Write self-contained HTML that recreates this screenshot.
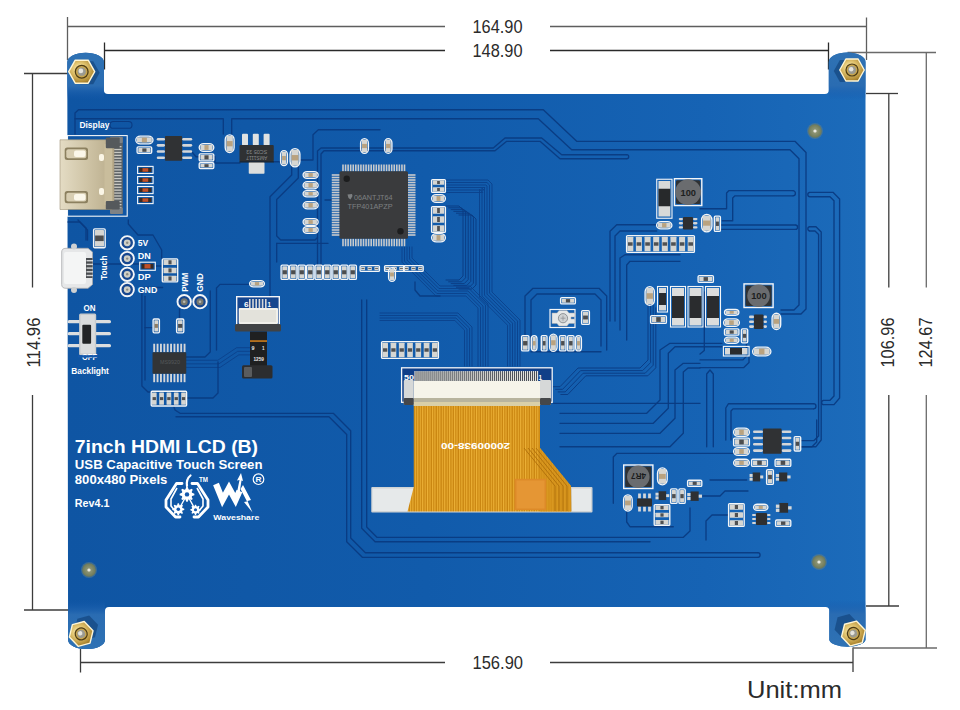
<!DOCTYPE html>
<html><head><meta charset="utf-8">
<style>
html,body{margin:0;padding:0;background:#fff;width:960px;height:710px;overflow:hidden}
svg{display:block}
text{font-family:"Liberation Sans",sans-serif}
</style></head><body>
<svg width="960" height="710" viewBox="0 0 960 710">
<defs>
 <radialGradient id="brass" cx="0.42" cy="0.38" r="0.75">
  <stop offset="0" stop-color="#fff3c0"/>
  <stop offset="0.35" stop-color="#e2c571"/>
  <stop offset="0.75" stop-color="#b18b34"/>
  <stop offset="1" stop-color="#7d5d1c"/>
 </radialGradient>
 <linearGradient id="hdmi" x1="0" y1="0" x2="1" y2="0">
  <stop offset="0" stop-color="#e4dcc4"/>
  <stop offset="0.5" stop-color="#cfc4a6"/>
  <stop offset="1" stop-color="#b8ab8a"/>
 </linearGradient>
 <linearGradient id="flex" x1="0" y1="0" x2="1" y2="0">
  <stop offset="0" stop-color="#d88f1c"/>
  <stop offset="0.5" stop-color="#e9a43a"/>
  <stop offset="1" stop-color="#d48a18"/>
 </linearGradient>
 <radialGradient id="fid" cx="0.5" cy="0.5" r="0.5">
  <stop offset="0" stop-color="#dcdcd0"/>
  <stop offset="0.25" stop-color="#8f9676"/>
  <stop offset="1" stop-color="#6c7858"/>
 </radialGradient>
</defs>
<g stroke="#5e5e5e" stroke-width="1.3" fill="none">
 <line x1="67.5" y1="17" x2="67.5" y2="60"/>
 <line x1="68" y1="26.5" x2="445" y2="26.5"/>
 <line x1="550" y1="26.5" x2="866" y2="26.5"/>
 <line x1="866.5" y1="17.5" x2="866.5" y2="60"/>
</g>
<g stroke="#2a2a2a" stroke-width="1.3" fill="none">
 <line x1="104.5" y1="42.5" x2="104.5" y2="69.5"/>
 <line x1="105" y1="50.5" x2="445" y2="50.5"/>
 <line x1="550" y1="50.5" x2="828" y2="50.5"/>
 <line x1="828.5" y1="42.5" x2="828.5" y2="69.5"/>
</g>
<g stroke="#3c3c3c" stroke-width="1.3" fill="none">
 <line x1="24" y1="73.5" x2="68" y2="73.5"/>
 <line x1="32.5" y1="74" x2="32.5" y2="287.5"/>
 <line x1="32.5" y1="395" x2="32.5" y2="610"/>
 <line x1="24" y1="610" x2="69" y2="610"/>
 <line x1="80.5" y1="649" x2="80.5" y2="672.5"/>
 <line x1="81" y1="662.5" x2="445" y2="662.5"/>
 <line x1="550" y1="662.5" x2="853" y2="662.5"/>
 <line x1="853" y1="647.5" x2="853" y2="672"/>
 <line x1="866" y1="93.5" x2="898" y2="93.5"/>
 <line x1="888.8" y1="93.5" x2="888.8" y2="287.5"/>
 <line x1="888.8" y1="395" x2="888.8" y2="606"/>
 <line x1="866" y1="606" x2="899" y2="606"/>
</g>
<g stroke="#6a6a6a" stroke-width="1.3" fill="none">
 <line x1="847.5" y1="52.5" x2="936" y2="52.5"/>
 <line x1="926.3" y1="52.5" x2="926.3" y2="287.5"/>
 <line x1="926.3" y1="395" x2="926.3" y2="648"/>
 <line x1="853" y1="648" x2="937" y2="648"/>
</g>
<g fill="#2b2b2b" font-size="18">
 <text x="472.5" y="33" textLength="50" lengthAdjust="spacingAndGlyphs">164.90</text>
 <text x="472.5" y="57" textLength="50" lengthAdjust="spacingAndGlyphs">148.90</text>
 <text x="472.5" y="668.8" textLength="50.5" lengthAdjust="spacingAndGlyphs">156.90</text>
 <text transform="translate(39.5,367.5) rotate(-90)" textLength="50" lengthAdjust="spacingAndGlyphs">114.96</text>
 <text transform="translate(894,367.5) rotate(-90)" textLength="50" lengthAdjust="spacingAndGlyphs">106.96</text>
 <text transform="translate(932,367.5) rotate(-90)" textLength="50" lengthAdjust="spacingAndGlyphs">124.67</text>
 <text x="747" y="698" font-size="24" textLength="95" lengthAdjust="spacingAndGlyphs">Unit:mm</text>
</g>
<defs><linearGradient id="bg" x1="67" y1="0" x2="866" y2="0" gradientUnits="userSpaceOnUse"><stop offset="0" stop-color="#0f55a3"/><stop offset="0.45" stop-color="#115bab"/><stop offset="0.8" stop-color="#1663b4"/><stop offset="1" stop-color="#1c6bba"/></linearGradient></defs>
<path fill="url(#bg)" d="M67.3,62 A18.3,9.3 0 0 1 103.9,62 L103.9,90 Q103.9,94 108,94 L824.8,94 Q828.8,94 828.8,90 L828.8,62 A18.35,9.5 0 0 1 865.5,62 L865.5,640 A18.2,7.5 0 0 1 829.3,640 L829.3,611 Q829.3,607 825.3,607 L109,607 Q105,607 105,611 L105,640 A18.4,9 0 0 1 68.1,640 Z"/>
<defs><linearGradient id="tabT" x1="0" y1="0" x2="0" y2="1"><stop offset="0" stop-color="#2f72b4"/><stop offset="0.7" stop-color="#2a6cb2"/><stop offset="1" stop-color="#1458ac" stop-opacity="0"/></linearGradient><linearGradient id="tabB" x1="0" y1="1" x2="0" y2="0"><stop offset="0" stop-color="#2f72b4"/><stop offset="0.7" stop-color="#2a6cb2"/><stop offset="1" stop-color="#1458ac" stop-opacity="0"/></linearGradient></defs>
<path fill="url(#tabT)" d="M67.3,62 A18.3,9.3 0 0 1 103.9,62 L103.9,100 L67.3,100 Z"/>
<path fill="url(#tabT)" d="M828.8,62 A18.35,9.5 0 0 1 865.5,62 L865.5,100 L828.8,100 Z"/>
<path fill="url(#tabB)" d="M68.1,600 L105,600 L105,640 A18.4,9 0 0 1 68.1,640 Z"/>
<path fill="url(#tabB)" d="M829.3,600 L865.5,600 L865.5,640 A18.2,7.5 0 0 1 829.3,640 Z"/>
<g transform="translate(86.7,72.7)"><polygon transform="rotate(0)" points="-13,0 -6.5,-11.5 6.5,-11.5 13,0 6.5,11.5 -6.5,11.5" fill="#0d3a70" opacity="0.55"/></g>
<g transform="translate(81.7,71.7) rotate(0)"><polygon points="-13,0 -6.5,-11.5 6.5,-11.5 13,0 6.5,11.5 -6.5,11.5" fill="url(#brass)" stroke="#fff6d6" stroke-width="1.4" stroke-linejoin="round"/><circle r="7.02" fill="#4e3c14"/><circle r="5.72" fill="#c7a650"/><circle r="4.16" fill="#9a9a92"/><circle cx="-0.8" cy="-0.8" r="2.34" fill="#e6e4dc"/></g>
<g transform="translate(846,71)"><polygon transform="rotate(0)" points="-12.25,0 -6.12,-11 6.12,-11 12.25,0 6.12,11 -6.12,11" fill="#0d3a70" opacity="0.55"/></g>
<g transform="translate(852,70) rotate(0)"><polygon points="-12.25,0 -6.12,-11 6.12,-11 12.25,0 6.12,11 -6.12,11" fill="url(#brass)" stroke="#fff6d6" stroke-width="1.4" stroke-linejoin="round"/><circle r="6.62" fill="#4e3c14"/><circle r="5.39" fill="#c7a650"/><circle r="3.92" fill="#9a9a92"/><circle cx="-0.8" cy="-0.8" r="2.21" fill="#e6e4dc"/></g>
<g transform="translate(86.2,627.9)"><polygon transform="rotate(-15)" points="-12.25,0 -6.12,-11.2 6.12,-11.2 12.25,0 6.12,11.2 -6.12,11.2" fill="#0d3a70" opacity="0.55"/></g>
<g transform="translate(81.2,633.9) rotate(-15)"><polygon points="-12.25,0 -6.12,-11.2 6.12,-11.2 12.25,0 6.12,11.2 -6.12,11.2" fill="url(#brass)" stroke="#fff6d6" stroke-width="1.4" stroke-linejoin="round"/><circle r="6.62" fill="#4e3c14"/><circle r="5.39" fill="#c7a650"/><circle r="3.92" fill="#9a9a92"/><circle cx="-0.8" cy="-0.8" r="2.21" fill="#e6e4dc"/></g>
<g transform="translate(846.4,626.5)"><polygon transform="rotate(-15)" points="-12.25,0 -6.12,-11.2 6.12,-11.2 12.25,0 6.12,11.2 -6.12,11.2" fill="#0d3a70" opacity="0.55"/></g>
<g transform="translate(853.4,633.5) rotate(-15)"><polygon points="-12.25,0 -6.12,-11.2 6.12,-11.2 12.25,0 6.12,11.2 -6.12,11.2" fill="url(#brass)" stroke="#fff6d6" stroke-width="1.4" stroke-linejoin="round"/><circle r="6.62" fill="#4e3c14"/><circle r="5.39" fill="#c7a650"/><circle r="3.92" fill="#9a9a92"/><circle cx="-0.8" cy="-0.8" r="2.21" fill="#e6e4dc"/></g>
<circle cx="89" cy="570" r="8" fill="#5f7d8a" opacity="0.55"/><circle cx="89" cy="570" r="6.8" fill="url(#fid)"/><circle cx="89" cy="570" r="1.6" fill="#e8e8e0"/>
<circle cx="815" cy="131" r="8" fill="#5f7d8a" opacity="0.55"/><circle cx="815" cy="131" r="6.8" fill="url(#fid)"/><circle cx="815" cy="131" r="1.6" fill="#e8e8e0"/>
<circle cx="819" cy="562" r="8" fill="#5f7d8a" opacity="0.55"/><circle cx="819" cy="562" r="6.8" fill="url(#fid)"/><circle cx="819" cy="562" r="1.6" fill="#e8e8e0"/>
<path d="M75,134 L75,113 L78.5,109.7 L543.3,109.7 L576.7,141.3 L795,141.3 L806,152.5 L806,309 L801,314 L781,314" fill="none" stroke="#0a3b82" stroke-width="1.35" stroke-linejoin="round" stroke-linecap="round" opacity="0.95"/>
<path d="M75,118.7 L223.3,118.7 L223.3,134" fill="none" stroke="#0a3b82" stroke-width="1.35" stroke-linejoin="round" stroke-linecap="round" opacity="0.95"/>
<path d="M231.7,134 L231.7,118.7 L538.3,118.7 L571.7,149.7 L790,149.7 L799,158.7 L799,305 L794,310 L781,310" fill="none" stroke="#0a3b82" stroke-width="1.35" stroke-linejoin="round" stroke-linecap="round" opacity="0.95"/>
<path d="M317.5,265 L317.5,151 L321,148 L493.3,148 L505,138 L541.7,138 L561.7,154.7 L626.7,154.7" fill="none" stroke="#0a3b82" stroke-width="1.35" stroke-linejoin="round" stroke-linecap="round" opacity="0.95"/>
<path d="M321,265 L321,154 L324,150.7 L495,150.7 L506.7,141.3 L540,141.3 L560,158.7 L626.7,158.7" fill="none" stroke="#0a3b82" stroke-width="1.35" stroke-linejoin="round" stroke-linecap="round" opacity="0.95"/>
<path d="M626.7,154.7 A2,2 0 0 1 626.7,158.7" fill="none" stroke="#0a3b82" stroke-width="1.3"/>
<rect x="110" y="121.5" width="22" height="6.8" fill="none" rx="3.4" stroke="#0a3b82" stroke-width="1.1"/>
<path d="M192,152 L196,156.7 L215,156.7 L215,163 L240,163" fill="none" stroke="#0a3b82" stroke-width="1.35" stroke-linejoin="round" stroke-linecap="round" opacity="0.95"/>
<path d="M273.75,161.75 L281,161.75" fill="none" stroke="#0a3b82" stroke-width="1.35" stroke-linejoin="round" stroke-linecap="round" opacity="0.95"/>
<path d="M291.7,166 L291.7,175 L270,196.7 L270,300" fill="none" stroke="#0a3b82" stroke-width="1.35" stroke-linejoin="round" stroke-linecap="round" opacity="0.95"/>
<path d="M298.3,166 L298.3,178 L276.7,199.6 L276.7,236 L280.7,240 L315,240 L317.5,237.5" fill="none" stroke="#0a3b82" stroke-width="1.35" stroke-linejoin="round" stroke-linecap="round" opacity="0.95"/>
<path d="M276.7,243.3 L328,243.3" fill="none" stroke="#0a3b82" stroke-width="1.35" stroke-linejoin="round" stroke-linecap="round" opacity="0.95"/>
<path d="M276.7,243.3 L276.7,262" fill="none" stroke="#0a3b82" stroke-width="1.35" stroke-linejoin="round" stroke-linecap="round" opacity="0.95"/>
<path d="M300.5,160 L313,160 L313,134.7 L318.3,129.7 L380,129.7" fill="none" stroke="#0a3b82" stroke-width="1.35" stroke-linejoin="round" stroke-linecap="round" opacity="0.95"/>
<path d="M336,200 L325,200" fill="none" stroke="#0a3b82" stroke-width="1.35" stroke-linejoin="round" stroke-linecap="round" opacity="0.95"/>
<path d="M68,222 L80,222 L86,228 L86,240" fill="none" stroke="#0a3b82" stroke-width="1.35" stroke-linejoin="round" stroke-linecap="round" opacity="0.95"/>
<path d="M92.5,264 L139,264" fill="none" stroke="#0a3b82" stroke-width="1.35" stroke-linejoin="round" stroke-linecap="round" opacity="0.95"/>
<path d="M155.8,266 L161.7,266" fill="none" stroke="#0a3b82" stroke-width="1.35" stroke-linejoin="round" stroke-linecap="round" opacity="0.95"/>
<path d="M128.3,220 L128.3,224 L138,235 L153,235 L161.7,250 L161.7,258" fill="none" stroke="#0a3b82" stroke-width="1.35" stroke-linejoin="round" stroke-linecap="round" opacity="0.95"/>
<path d="M78,220 L87.5,230 L87.5,240" fill="none" stroke="#0a3b82" stroke-width="1.35" stroke-linejoin="round" stroke-linecap="round" opacity="0.95"/>
<path d="M162.6,287.5 L145,287.5 L141.9,291 L141.9,386 L148,392 L150.6,392" fill="none" stroke="#0a3b82" stroke-width="1.35" stroke-linejoin="round" stroke-linecap="round" opacity="0.95"/>
<path d="M145,296.3 L145,380" fill="none" stroke="#0a3b82" stroke-width="1.35" stroke-linejoin="round" stroke-linecap="round" opacity="0.95"/>
<path d="M145,327.6 L152.5,327.6" fill="none" stroke="#0a3b82" stroke-width="1.35" stroke-linejoin="round" stroke-linecap="round" opacity="0.95"/>
<path d="M186.25,357 L205,357 L210.25,352 L210.25,291" fill="none" stroke="#0a3b82" stroke-width="1.35" stroke-linejoin="round" stroke-linecap="round" opacity="0.95"/>
<path d="M216.5,350 L216.5,288 L220,284.4 L250,284.4" fill="none" stroke="#0a3b82" stroke-width="1.35" stroke-linejoin="round" stroke-linecap="round" opacity="0.95"/>
<path d="M186.25,360.25 L217.8,360.25 L236.6,347.7 L250,347.7" fill="none" stroke="#0b418c" stroke-width="1" stroke-linejoin="round" stroke-linecap="round" opacity="0.9"/>
<path d="M186.25,363.85 L218.89,363.85 L237.69,351.3 L250,351.3" fill="none" stroke="#0b418c" stroke-width="1" stroke-linejoin="round" stroke-linecap="round" opacity="0.9"/>
<path d="M186.25,367.45 L219.98,367.45 L238.78,354.9 L250,354.9" fill="none" stroke="#0b418c" stroke-width="1" stroke-linejoin="round" stroke-linecap="round" opacity="0.9"/>
<path d="M179.5,309 L179.5,318.4" fill="none" stroke="#0a3b82" stroke-width="1.35" stroke-linejoin="round" stroke-linecap="round" opacity="0.95"/>
<path d="M187.2,398 L213,398 L218,393 L218,362" fill="none" stroke="#0a3b82" stroke-width="1.35" stroke-linejoin="round" stroke-linecap="round" opacity="0.95"/>
<path d="M173.3,405 L175,410 L180,413.3 L333.3,413.3 L350.7,430.7 L350.7,538 L365.4,552.7 L757.8,552.7" fill="none" stroke="#0a3b82" stroke-width="1.35" stroke-linejoin="round" stroke-linecap="round" opacity="0.95"/>
<path d="M176,416.7 L329,416.7 L346.7,434.4 L346.7,541.7 L362.3,557.3 L757.8,557.3" fill="none" stroke="#0a3b82" stroke-width="1.35" stroke-linejoin="round" stroke-linecap="round" opacity="0.95"/>
<path d="M757.8,552.7 A2.3,2.3 0 0 1 757.8,557.3" fill="none" stroke="#0a3b82" stroke-width="1.3"/>
<path d="M366.7,300 L366.7,527 L376.9,537.3 L683.4,537.3 L690,531 L690,508" fill="none" stroke="#0a3b82" stroke-width="1.35" stroke-linejoin="round" stroke-linecap="round" opacity="0.95"/>
<path d="M361.7,300 L361.7,528.3 L375.1,541.7 L650,541.7" fill="none" stroke="#0a3b82" stroke-width="1.35" stroke-linejoin="round" stroke-linecap="round" opacity="0.95"/>
<path d="M446,180 L488,180 L492,184 L492,292 L520,320 L520,366" fill="none" stroke="#0b418c" stroke-width="1" stroke-linejoin="round" stroke-linecap="round" opacity="0.9"/>
<path d="M446,182.5 L486.96,182.5 L489.5,185.04 L489.5,293.04 L517.5,321.04 L517.5,366" fill="none" stroke="#0b418c" stroke-width="1" stroke-linejoin="round" stroke-linecap="round" opacity="0.9"/>
<path d="M446,185 L485.93,185 L487,186.07 L487,294.07 L515,322.07 L515,366" fill="none" stroke="#0b418c" stroke-width="1" stroke-linejoin="round" stroke-linecap="round" opacity="0.9"/>
<path d="M446,187.5 L484.89,187.5 L484.5,187.11 L484.5,295.11 L512.5,323.11 L512.5,366" fill="none" stroke="#0b418c" stroke-width="1" stroke-linejoin="round" stroke-linecap="round" opacity="0.9"/>
<path d="M446,190 L483.86,190 L482,188.14 L482,296.14 L510,324.14 L510,366" fill="none" stroke="#0b418c" stroke-width="1" stroke-linejoin="round" stroke-linecap="round" opacity="0.9"/>
<path d="M446,192.5 L482.82,192.5 L479.5,189.18 L479.5,297.18 L507.5,325.18 L507.5,366" fill="none" stroke="#0b418c" stroke-width="1" stroke-linejoin="round" stroke-linecap="round" opacity="0.9"/>
<path d="M446,206 L459,206 L463,210 L463,276 L459,280 L446,280" fill="none" stroke="#0a3b82" stroke-width="1" stroke-linejoin="round" stroke-linecap="round" opacity="0.9"/>
<path d="M448.6,207.8 L461.6,207.8 L465.6,211.8 L465.6,277.8 L461.6,281.8 L448.6,281.8" fill="none" stroke="#0a3b82" stroke-width="1" stroke-linejoin="round" stroke-linecap="round" opacity="0.9"/>
<path d="M451.2,209.6 L464.2,209.6 L468.2,213.6 L468.2,279.6 L464.2,283.6 L451.2,283.6" fill="none" stroke="#0a3b82" stroke-width="1" stroke-linejoin="round" stroke-linecap="round" opacity="0.9"/>
<path d="M453.8,211.4 L466.8,211.4 L470.8,215.4 L470.8,281.4 L466.8,285.4 L453.8,285.4" fill="none" stroke="#0a3b82" stroke-width="1" stroke-linejoin="round" stroke-linecap="round" opacity="0.9"/>
<path d="M456.4,213.2 L469.4,213.2 L473.4,217.2 L473.4,283.2 L469.4,287.2 L456.4,287.2" fill="none" stroke="#0a3b82" stroke-width="1" stroke-linejoin="round" stroke-linecap="round" opacity="0.9"/>
<path d="M459,215 L472,215 L476,219 L476,285 L472,289 L459,289" fill="none" stroke="#0a3b82" stroke-width="1" stroke-linejoin="round" stroke-linecap="round" opacity="0.9"/>
<path d="M412,247 L412,258 L440,286 L470,286 L488,304 L488,366" fill="none" stroke="#0b418c" stroke-width="1" stroke-linejoin="round" stroke-linecap="round" opacity="0.9"/>
<path d="M409.5,247 L409.5,259.04 L438.96,288.5 L468.96,288.5 L485.5,305.04 L485.5,366" fill="none" stroke="#0b418c" stroke-width="1" stroke-linejoin="round" stroke-linecap="round" opacity="0.9"/>
<path d="M407,247 L407,260.07 L437.93,291 L467.93,291 L483,306.07 L483,366" fill="none" stroke="#0b418c" stroke-width="1" stroke-linejoin="round" stroke-linecap="round" opacity="0.9"/>
<path d="M404.5,247 L404.5,261.11 L436.89,293.5 L466.89,293.5 L480.5,307.11 L480.5,366" fill="none" stroke="#0b418c" stroke-width="1" stroke-linejoin="round" stroke-linecap="round" opacity="0.9"/>
<path d="M402,247 L402,262.14 L435.86,296 L465.86,296 L478,308.14 L478,366" fill="none" stroke="#0b418c" stroke-width="1" stroke-linejoin="round" stroke-linecap="round" opacity="0.9"/>
<path d="M380,313 L458,313 L472,327 L472,366" fill="none" stroke="#0b418c" stroke-width="1" stroke-linejoin="round" stroke-linecap="round" opacity="0.9"/>
<path d="M380,315.5 L456.96,315.5 L469.5,328.04 L469.5,366" fill="none" stroke="#0b418c" stroke-width="1" stroke-linejoin="round" stroke-linecap="round" opacity="0.9"/>
<path d="M380,318 L455.93,318 L467,329.07 L467,366" fill="none" stroke="#0b418c" stroke-width="1" stroke-linejoin="round" stroke-linecap="round" opacity="0.9"/>
<path d="M380,320.5 L454.89,320.5 L464.5,330.11 L464.5,366" fill="none" stroke="#0b418c" stroke-width="1" stroke-linejoin="round" stroke-linecap="round" opacity="0.9"/>
<path d="M415,282 L415,290 L420,296 L440,296" fill="none" stroke="#0a3b82" stroke-width="1.35" stroke-linejoin="round" stroke-linecap="round" opacity="0.95"/>
<path d="M610,321 L610,231.3 L616.7,224.7 L656.7,224.7" fill="none" stroke="#0a3b82" stroke-width="1.35" stroke-linejoin="round" stroke-linecap="round" opacity="0.95"/>
<path d="M615,321 L615,236 L620,231 L656.7,231" fill="none" stroke="#0a3b82" stroke-width="1.35" stroke-linejoin="round" stroke-linecap="round" opacity="0.95"/>
<path d="M620,330 L620,258 L625,254.7 L680,254.7" fill="none" stroke="#0a3b82" stroke-width="1.35" stroke-linejoin="round" stroke-linecap="round" opacity="0.95"/>
<path d="M626.7,340 L626.7,265 L630,261.3 L680,261.3" fill="none" stroke="#0a3b82" stroke-width="1.35" stroke-linejoin="round" stroke-linecap="round" opacity="0.95"/>
<path d="M700,208.7 L726.6,208.7 L726.6,193 L729,190.6 L792.8,190.6" fill="none" stroke="#0a3b82" stroke-width="1.35" stroke-linejoin="round" stroke-linecap="round" opacity="0.95"/>
<path d="M722.3,220.7 L732.7,220.7 L732.7,198 L735,195.8 L792.8,195.8" fill="none" stroke="#0a3b82" stroke-width="1.35" stroke-linejoin="round" stroke-linecap="round" opacity="0.95"/>
<path d="M792.8,190.6 A2.6,2.6 0 0 1 792.8,195.8" fill="none" stroke="#0a3b82" stroke-width="1.3"/>
<path d="M721,225 L795.4,225" fill="none" stroke="#0a3b82" stroke-width="1.35" stroke-linejoin="round" stroke-linecap="round" opacity="0.95"/>
<path d="M721,229.3 L795.4,229.3" fill="none" stroke="#0a3b82" stroke-width="1.35" stroke-linejoin="round" stroke-linecap="round" opacity="0.95"/>
<path d="M795.4,225 A2.15,2.15 0 0 1 795.4,229.3" fill="none" stroke="#0a3b82" stroke-width="1.3"/>
<path d="M810,192.3 L833,192.3 L839.6,198.9 L839.6,398 L834,404.6 L823.75,404.6" fill="none" stroke="#0a3b82" stroke-width="1.35" stroke-linejoin="round" stroke-linecap="round" opacity="0.95"/>
<path d="M810,196.7 L830,196.7 L834,200.7 L834,396 L830,400.3 L823.75,400.3" fill="none" stroke="#0a3b82" stroke-width="1.35" stroke-linejoin="round" stroke-linecap="round" opacity="0.95"/>
<path d="M810,192.3 A2.2,2.2 0 0 0 810,196.7" fill="none" stroke="#0a3b82" stroke-width="1.3"/>
<path d="M823.75,400.3 A2.15,2.15 0 0 0 823.75,404.6" fill="none" stroke="#0a3b82" stroke-width="1.3"/>
<path d="M810,226.7 L816,226.7 L821.2,231.9 L821.2,440 L816,446.7 L800,446.7" fill="none" stroke="#0a3b82" stroke-width="1.35" stroke-linejoin="round" stroke-linecap="round" opacity="0.95"/>
<path d="M810,231 L815,231 L818.6,234.6 L818.6,436 L814,440.6 L801.3,440.6" fill="none" stroke="#0a3b82" stroke-width="1.35" stroke-linejoin="round" stroke-linecap="round" opacity="0.95"/>
<path d="M810,226.7 A2.15,2.15 0 0 0 810,231" fill="none" stroke="#0a3b82" stroke-width="1.3"/>
<path d="M725.8,440 L725.8,408 L728.5,403.7 L813.4,403.7" fill="none" stroke="#0a3b82" stroke-width="1.35" stroke-linejoin="round" stroke-linecap="round" opacity="0.95"/>
<path d="M731,440 L731,411 L733,408.9 L813.4,408.9" fill="none" stroke="#0a3b82" stroke-width="1.35" stroke-linejoin="round" stroke-linecap="round" opacity="0.95"/>
<path d="M813.4,403.7 A2.6,2.6 0 0 1 813.4,408.9" fill="none" stroke="#0a3b82" stroke-width="1.3"/>
<path d="M700,359.9 L743,359.9 L746.4,356.4 L746.4,343.6" fill="none" stroke="#0a3b82" stroke-width="1.35" stroke-linejoin="round" stroke-linecap="round" opacity="0.95"/>
<path d="M700,367.6 L743.8,367.6 L749,362.5 L749,356.5" fill="none" stroke="#0a3b82" stroke-width="1.35" stroke-linejoin="round" stroke-linecap="round" opacity="0.95"/>
<path d="M704.3,292 L704.3,350.4 L700,354" fill="none" stroke="#0a3b82" stroke-width="1.35" stroke-linejoin="round" stroke-linecap="round" opacity="0.95"/>
<path d="M525,350 L525,296 L533,288.3 L599,288.3 L606.7,296 L606.7,350" fill="none" stroke="#0a3b82" stroke-width="1.35" stroke-linejoin="round" stroke-linecap="round" opacity="0.95"/>
<path d="M531,346 L531,300 L537,294 L595,294 L601,300 L601,346" fill="none" stroke="#0a3b82" stroke-width="1.35" stroke-linejoin="round" stroke-linecap="round" opacity="0.95"/>
<path d="M531,351.7 L601,351.7" fill="none" stroke="#0a3b82" stroke-width="1.35" stroke-linejoin="round" stroke-linecap="round" opacity="0.95"/>
<path d="M553,386.7 L560,386.7 L578,368 L640,368 L648,360 L648,300" fill="none" stroke="#0a3b82" stroke-width="1" stroke-linejoin="round" stroke-linecap="round" opacity="0.9"/>
<path d="M555.6,389.3 L562.6,389.3 L580.6,370.6 L642.6,370.6 L650.6,362.6 L650.6,302.6" fill="none" stroke="#0a3b82" stroke-width="1" stroke-linejoin="round" stroke-linecap="round" opacity="0.9"/>
<path d="M558.2,391.9 L565.2,391.9 L583.2,373.2 L645.2,373.2 L653.2,365.2 L653.2,305.2" fill="none" stroke="#0a3b82" stroke-width="1" stroke-linejoin="round" stroke-linecap="round" opacity="0.9"/>
<path d="M560.8,394.5 L567.8,394.5 L585.8,375.8 L647.8,375.8 L655.8,367.8 L655.8,307.8" fill="none" stroke="#0a3b82" stroke-width="1" stroke-linejoin="round" stroke-linecap="round" opacity="0.9"/>
<path d="M553,403.3 L700,403.3" fill="none" stroke="#0a3b82" stroke-width="1.35" stroke-linejoin="round" stroke-linecap="round" opacity="0.95"/>
<path d="M560,413.3 L646.7,413.3 L660,400 L660,350 L670,343.3 L722,343.3" fill="none" stroke="#0a3b82" stroke-width="1.35" stroke-linejoin="round" stroke-linecap="round" opacity="0.95"/>
<path d="M560,423.3 L653.3,423.3 L668.3,408.3 L668.3,353.3 L675,346.7 L722,346.7" fill="none" stroke="#0a3b82" stroke-width="1.35" stroke-linejoin="round" stroke-linecap="round" opacity="0.95"/>
<path d="M560,433.3 L660,433.3 L675,418.3 L675,370 L683.3,363.3 L700,363.3" fill="none" stroke="#0a3b82" stroke-width="1.35" stroke-linejoin="round" stroke-linecap="round" opacity="0.95"/>
<path d="M560,446.7 L670,446.7 L683.3,433.3 L683.3,372 L688,368 L700,368" fill="none" stroke="#0a3b82" stroke-width="1.35" stroke-linejoin="round" stroke-linecap="round" opacity="0.95"/>
<path d="M706.7,446.7 L706.7,374 L710,370 L713.3,374 L713.3,446.7" fill="none" stroke="#0a3b82" stroke-width="1.35" stroke-linejoin="round" stroke-linecap="round" opacity="0.95"/>
<path d="M800,446.7 L812,446.7 L816.7,442 L816.7,420" fill="none" stroke="#0a3b82" stroke-width="1.35" stroke-linejoin="round" stroke-linecap="round" opacity="0.95"/>
<path d="M613.3,503.3 L613.3,457 L617,453.3 L746.7,453.3" fill="none" stroke="#0a3b82" stroke-width="1.35" stroke-linejoin="round" stroke-linecap="round" opacity="0.95"/>
<path d="M626.7,512 L626.7,522 L630,526.7 L673.3,526.7" fill="none" stroke="#0a3b82" stroke-width="1.35" stroke-linejoin="round" stroke-linecap="round" opacity="0.95"/>
<path d="M710,480 L746.7,480" fill="none" stroke="#0a3b82" stroke-width="1.35" stroke-linejoin="round" stroke-linecap="round" opacity="0.95"/>
<path d="M702.8,496 L720,496 L725,491 L748,491" fill="none" stroke="#0a3b82" stroke-width="1.35" stroke-linejoin="round" stroke-linecap="round" opacity="0.95"/>
<path d="M728,515 L712,515 L706,521 L706,540" fill="none" stroke="#0a3b82" stroke-width="1.35" stroke-linejoin="round" stroke-linecap="round" opacity="0.95"/>
<rect x="67.5" y="135.6" width="59.7" height="80.6" fill="none" stroke="#f4f6f8" stroke-width="1.1"/>
<rect x="112" y="136.7" width="10.8" height="77.3" fill="#5d6265" rx="1"/>
<rect x="113.5" y="146" width="8" height="1.3" fill="#c9c9c4"/>
<rect x="113.5" y="148.9" width="8" height="1.3" fill="#c9c9c4"/>
<rect x="113.5" y="151.8" width="8" height="1.3" fill="#c9c9c4"/>
<rect x="113.5" y="154.7" width="8" height="1.3" fill="#c9c9c4"/>
<rect x="113.5" y="157.6" width="8" height="1.3" fill="#c9c9c4"/>
<rect x="113.5" y="160.5" width="8" height="1.3" fill="#c9c9c4"/>
<rect x="113.5" y="163.4" width="8" height="1.3" fill="#c9c9c4"/>
<rect x="113.5" y="166.3" width="8" height="1.3" fill="#c9c9c4"/>
<rect x="113.5" y="169.2" width="8" height="1.3" fill="#c9c9c4"/>
<rect x="113.5" y="172.1" width="8" height="1.3" fill="#c9c9c4"/>
<rect x="113.5" y="175" width="8" height="1.3" fill="#c9c9c4"/>
<rect x="113.5" y="177.9" width="8" height="1.3" fill="#c9c9c4"/>
<rect x="113.5" y="180.8" width="8" height="1.3" fill="#c9c9c4"/>
<rect x="113.5" y="183.7" width="8" height="1.3" fill="#c9c9c4"/>
<rect x="113.5" y="186.6" width="8" height="1.3" fill="#c9c9c4"/>
<rect x="113.5" y="189.5" width="8" height="1.3" fill="#c9c9c4"/>
<rect x="113.5" y="192.4" width="8" height="1.3" fill="#c9c9c4"/>
<rect x="113.5" y="195.3" width="8" height="1.3" fill="#c9c9c4"/>
<rect x="113.5" y="198.2" width="8" height="1.3" fill="#c9c9c4"/>
<rect x="113.5" y="201.1" width="8" height="1.3" fill="#c9c9c4"/>
<rect x="113.5" y="204" width="8" height="1.3" fill="#c9c9c4"/>
<rect x="113.5" y="206.9" width="8" height="1.3" fill="#c9c9c4"/>
<rect x="110" y="136.7" width="12.8" height="6.3" fill="#7e8285" rx="1"/>
<rect x="110" y="207.5" width="12.8" height="6.5" fill="#7e8285" rx="1"/>
<path d="M60,139.8 L112,139.8 L112,145 L114,145 L114,205 L112,205 L112,209.5 L60,209.5 Z" fill="url(#hdmi)" stroke="#9d9275" stroke-width="0.6"/>
<rect x="104.5" y="144" width="7.5" height="61" fill="#c9bd9c"/>
<rect x="105.8" y="137.5" width="13.9" height="10.8" fill="#55595c" rx="1"/>
<rect x="105.8" y="201" width="13.9" height="8.5" fill="#55595c" rx="1"/>
<rect x="64.7" y="147.5" width="23.3" height="12.5" fill="#8c805f" rx="2.5"/>
<rect x="66.3" y="149.3" width="20" height="8.9" fill="#d8ceb2" rx="2"/>
<rect x="74" y="150.5" width="11.5" height="6.5" fill="#fbf7ea" rx="2"/>
<rect x="64.7" y="190.9" width="23.3" height="12.4" fill="#8c805f" rx="2.5"/>
<rect x="66.3" y="192.7" width="20" height="8.8" fill="#d8ceb2" rx="2"/>
<rect x="74" y="193.9" width="11.5" height="6.5" fill="#fbf7ea" rx="2"/>
<rect x="99" y="154" width="5" height="7" fill="#fbf6e6" rx="2"/>
<rect x="99" y="188" width="5" height="7" fill="#fbf6e6" rx="2"/>
<text x="79.4" y="128.2" font-size="9.3" font-weight="bold" fill="#fff" textLength="30" lengthAdjust="spacingAndGlyphs">Display</text>
<rect x="156.75" y="137.89" width="8.25" height="2.6" fill="#d4d6d8" rx="1.3"/>
<rect x="182.1" y="137.89" width="10.1" height="2.6" fill="#d4d6d8" rx="1.3"/>
<rect x="156.75" y="144.06" width="8.25" height="2.6" fill="#d4d6d8" rx="1.3"/>
<rect x="182.1" y="144.06" width="10.1" height="2.6" fill="#d4d6d8" rx="1.3"/>
<rect x="156.75" y="150.24" width="8.25" height="2.6" fill="#d4d6d8" rx="1.3"/>
<rect x="182.1" y="150.24" width="10.1" height="2.6" fill="#d4d6d8" rx="1.3"/>
<rect x="156.75" y="156.41" width="8.25" height="2.6" fill="#d4d6d8" rx="1.3"/>
<rect x="182.1" y="156.41" width="10.1" height="2.6" fill="#d4d6d8" rx="1.3"/>
<rect x="165" y="136.1" width="17.1" height="24.7" fill="#303234" rx="0.8"/>
<rect x="135.8" y="136.1" width="17.2" height="7.7" fill="none" rx="4.45" stroke="#f4f6f8" stroke-width="1.35"/>
<rect x="137" y="137.3" width="14.8" height="5.3" fill="#d6d6d2" rx="0.6"/>
<rect x="141.88" y="137.6" width="5.03" height="4.7" fill="#b9a27f"/>
<rect x="137.1" y="146.9" width="14.6" height="6.4" fill="none" rx="1.2" stroke="#f4f6f8" stroke-width="1.35"/>
<rect x="138.3" y="148.1" width="12.2" height="4" fill="#d6d6d2" rx="0.6"/>
<rect x="142.33" y="148.4" width="4.15" height="3.4" fill="#4c4d4e"/>
<rect x="199.2" y="143.6" width="14.6" height="7.8" fill="none" rx="4.5" stroke="#f4f6f8" stroke-width="1.35"/>
<rect x="200.4" y="144.8" width="12.2" height="5.4" fill="#d6d6d2" rx="0.6"/>
<rect x="204.43" y="145.1" width="4.15" height="4.8" fill="#b9a27f"/>
<rect x="199.2" y="153.8" width="14.6" height="7.1" fill="none" rx="1.2" stroke="#f4f6f8" stroke-width="1.35"/>
<rect x="200.4" y="155" width="12.2" height="4.7" fill="#d6d6d2" rx="0.6"/>
<rect x="204.43" y="155.3" width="4.15" height="4.1" fill="#4c4d4e"/>
<rect x="199.2" y="162.7" width="14.6" height="5.8" fill="none" rx="1.2" stroke="#f4f6f8" stroke-width="1.35"/>
<rect x="200.4" y="163.9" width="12.2" height="3.4" fill="#d6d6d2" rx="0.6"/>
<rect x="204.43" y="164.2" width="4.15" height="2.8" fill="#4c4d4e"/>
<rect x="225.2" y="134.8" width="8.9" height="17.8" fill="none" rx="5.05" stroke="#f4f6f8" stroke-width="1.35"/>
<rect x="226.4" y="136" width="6.5" height="15.4" fill="#d6d6d2" rx="0.6"/>
<rect x="226.7" y="141.08" width="5.9" height="5.24" fill="#b9a27f"/>
<rect x="137.6" y="166.4" width="15.5" height="7.1" fill="none" stroke="#f4f6f8" stroke-width="1.1"/>
<rect x="139.3" y="167.9" width="12.1" height="4.1" fill="#3a2a22"/>
<rect x="142.5" y="168.2" width="5.7" height="3.5" fill="#c2502a"/>
<rect x="137.6" y="176.5" width="15.5" height="7.1" fill="none" stroke="#f4f6f8" stroke-width="1.1"/>
<rect x="139.3" y="178" width="12.1" height="4.1" fill="#3a2a22"/>
<rect x="142.5" y="178.3" width="5.7" height="3.5" fill="#c2502a"/>
<rect x="137.6" y="186.5" width="15.5" height="7.1" fill="none" stroke="#f4f6f8" stroke-width="1.1"/>
<rect x="139.3" y="188" width="12.1" height="4.1" fill="#3a2a22"/>
<rect x="142.5" y="188.3" width="5.7" height="3.5" fill="#c2502a"/>
<rect x="137.6" y="196.5" width="15.5" height="7.1" fill="none" stroke="#f4f6f8" stroke-width="1.1"/>
<rect x="139.3" y="198" width="12.1" height="4.1" fill="#3a2a22"/>
<rect x="142.5" y="198.3" width="5.7" height="3.5" fill="#c2502a"/>
<rect x="242" y="133.8" width="6" height="11.7" fill="#e0e2e2" rx="1"/>
<rect x="252.8" y="133.8" width="6" height="11.7" fill="#e0e2e2" rx="1"/>
<rect x="263.6" y="133.8" width="6" height="11.7" fill="#e0e2e2" rx="1"/>
<rect x="239.5" y="145" width="34.25" height="16.25" fill="#2f3133" rx="1"/>
<rect x="248.75" y="162" width="15.75" height="11.75" fill="#dcdedd" rx="0.8"/>
<rect x="239.5" y="161.2" width="34.25" height="1.3" fill="#1f2022"/>
<text x="246" y="152.5" font-size="5.2" font-weight="normal" fill="#8a8c8e" textLength="21" lengthAdjust="spacingAndGlyphs" transform="rotate(180 256.6 151)">SC05  33</text>
<text x="246" y="158.5" font-size="5.2" font-weight="normal" fill="#8a8c8e" textLength="21" lengthAdjust="spacingAndGlyphs" transform="rotate(180 256.6 157)">AMS1117</text>
<rect x="280.6" y="150.6" width="6.8" height="15.05" fill="none" rx="4" stroke="#f4f6f8" stroke-width="1.35"/>
<rect x="281.8" y="151.8" width="4.4" height="12.65" fill="#d6d6d2" rx="0.6"/>
<rect x="282.1" y="155.97" width="3.8" height="4.3" fill="#b9a27f"/>
<rect x="290.1" y="148.6" width="9.8" height="18.3" fill="none" rx="5.5" stroke="#f4f6f8" stroke-width="1.35"/>
<rect x="291.3" y="149.8" width="7.4" height="15.9" fill="#d6d6d2" rx="0.6"/>
<rect x="291.6" y="155.05" width="6.8" height="5.41" fill="#b9a27f"/>
<rect x="303.1" y="171.6" width="15.05" height="6.8" fill="none" rx="4" stroke="#f4f6f8" stroke-width="1.35"/>
<rect x="304.3" y="172.8" width="12.65" height="4.4" fill="#d6d6d2" rx="0.6"/>
<rect x="308.47" y="173.1" width="4.3" height="3.8" fill="#b9a27f"/>
<rect x="303.1" y="181.6" width="15.05" height="7.3" fill="none" rx="4.25" stroke="#f4f6f8" stroke-width="1.35"/>
<rect x="304.3" y="182.8" width="12.65" height="4.9" fill="#d6d6d2" rx="0.6"/>
<rect x="308.47" y="183.1" width="4.3" height="4.3" fill="#b9a27f"/>
<rect x="303.1" y="190.6" width="15.05" height="6.3" fill="none" rx="3.75" stroke="#f4f6f8" stroke-width="1.35"/>
<rect x="304.3" y="191.8" width="12.65" height="3.9" fill="#d6d6d2" rx="0.6"/>
<rect x="308.47" y="192.1" width="4.3" height="3.3" fill="#b9a27f"/>
<rect x="303.1" y="201.6" width="15.05" height="7.3" fill="none" rx="4.25" stroke="#f4f6f8" stroke-width="1.35"/>
<rect x="304.3" y="202.8" width="12.65" height="4.9" fill="#d6d6d2" rx="0.6"/>
<rect x="308.47" y="203.1" width="4.3" height="4.3" fill="#b9a27f"/>
<rect x="303.1" y="218.6" width="15.05" height="6.8" fill="none" rx="4" stroke="#f4f6f8" stroke-width="1.35"/>
<rect x="304.3" y="219.8" width="12.65" height="4.4" fill="#d6d6d2" rx="0.6"/>
<rect x="308.47" y="220.1" width="4.3" height="3.8" fill="#b9a27f"/>
<rect x="303.1" y="226.6" width="15.05" height="6.8" fill="none" rx="4" stroke="#f4f6f8" stroke-width="1.35"/>
<rect x="304.3" y="227.8" width="12.65" height="4.4" fill="#d6d6d2" rx="0.6"/>
<rect x="308.47" y="228.1" width="4.3" height="3.8" fill="#b9a27f"/>
<rect x="360.6" y="138.6" width="7.8" height="14.8" fill="none" rx="4.5" stroke="#f4f6f8" stroke-width="1.35"/>
<rect x="361.8" y="139.8" width="5.4" height="12.4" fill="#d6d6d2" rx="0.6"/>
<rect x="362.1" y="143.89" width="4.8" height="4.22" fill="#b9a27f"/>
<rect x="384.6" y="138.6" width="7.3" height="14.8" fill="none" rx="4.25" stroke="#f4f6f8" stroke-width="1.35"/>
<rect x="385.8" y="139.8" width="4.9" height="12.4" fill="#d6d6d2" rx="0.6"/>
<rect x="386.1" y="143.89" width="4.3" height="4.22" fill="#b9a27f"/>
<rect x="342.2" y="164.5" width="1.6" height="7" fill="#c8cacc"/>
<rect x="342.2" y="238.5" width="1.6" height="7.75" fill="#c8cacc"/>
<rect x="331.75" y="174.2" width="8.05" height="1.6" fill="#c8cacc"/>
<rect x="407.8" y="174.2" width="7.7" height="1.6" fill="#c8cacc"/>
<rect x="344.76" y="164.5" width="1.6" height="7" fill="#c8cacc"/>
<rect x="344.76" y="238.5" width="1.6" height="7.75" fill="#c8cacc"/>
<rect x="331.75" y="176.7" width="8.05" height="1.6" fill="#c8cacc"/>
<rect x="407.8" y="176.7" width="7.7" height="1.6" fill="#c8cacc"/>
<rect x="347.32" y="164.5" width="1.6" height="7" fill="#c8cacc"/>
<rect x="347.32" y="238.5" width="1.6" height="7.75" fill="#c8cacc"/>
<rect x="331.75" y="179.2" width="8.05" height="1.6" fill="#c8cacc"/>
<rect x="407.8" y="179.2" width="7.7" height="1.6" fill="#c8cacc"/>
<rect x="349.89" y="164.5" width="1.6" height="7" fill="#c8cacc"/>
<rect x="349.89" y="238.5" width="1.6" height="7.75" fill="#c8cacc"/>
<rect x="331.75" y="181.7" width="8.05" height="1.6" fill="#c8cacc"/>
<rect x="407.8" y="181.7" width="7.7" height="1.6" fill="#c8cacc"/>
<rect x="352.45" y="164.5" width="1.6" height="7" fill="#c8cacc"/>
<rect x="352.45" y="238.5" width="1.6" height="7.75" fill="#c8cacc"/>
<rect x="331.75" y="184.2" width="8.05" height="1.6" fill="#c8cacc"/>
<rect x="407.8" y="184.2" width="7.7" height="1.6" fill="#c8cacc"/>
<rect x="355.01" y="164.5" width="1.6" height="7" fill="#c8cacc"/>
<rect x="355.01" y="238.5" width="1.6" height="7.75" fill="#c8cacc"/>
<rect x="331.75" y="186.7" width="8.05" height="1.6" fill="#c8cacc"/>
<rect x="407.8" y="186.7" width="7.7" height="1.6" fill="#c8cacc"/>
<rect x="357.57" y="164.5" width="1.6" height="7" fill="#c8cacc"/>
<rect x="357.57" y="238.5" width="1.6" height="7.75" fill="#c8cacc"/>
<rect x="331.75" y="189.2" width="8.05" height="1.6" fill="#c8cacc"/>
<rect x="407.8" y="189.2" width="7.7" height="1.6" fill="#c8cacc"/>
<rect x="360.14" y="164.5" width="1.6" height="7" fill="#c8cacc"/>
<rect x="360.14" y="238.5" width="1.6" height="7.75" fill="#c8cacc"/>
<rect x="331.75" y="191.7" width="8.05" height="1.6" fill="#c8cacc"/>
<rect x="407.8" y="191.7" width="7.7" height="1.6" fill="#c8cacc"/>
<rect x="362.7" y="164.5" width="1.6" height="7" fill="#c8cacc"/>
<rect x="362.7" y="238.5" width="1.6" height="7.75" fill="#c8cacc"/>
<rect x="331.75" y="194.2" width="8.05" height="1.6" fill="#c8cacc"/>
<rect x="407.8" y="194.2" width="7.7" height="1.6" fill="#c8cacc"/>
<rect x="365.26" y="164.5" width="1.6" height="7" fill="#c8cacc"/>
<rect x="365.26" y="238.5" width="1.6" height="7.75" fill="#c8cacc"/>
<rect x="331.75" y="196.7" width="8.05" height="1.6" fill="#c8cacc"/>
<rect x="407.8" y="196.7" width="7.7" height="1.6" fill="#c8cacc"/>
<rect x="367.82" y="164.5" width="1.6" height="7" fill="#c8cacc"/>
<rect x="367.82" y="238.5" width="1.6" height="7.75" fill="#c8cacc"/>
<rect x="331.75" y="199.2" width="8.05" height="1.6" fill="#c8cacc"/>
<rect x="407.8" y="199.2" width="7.7" height="1.6" fill="#c8cacc"/>
<rect x="370.39" y="164.5" width="1.6" height="7" fill="#c8cacc"/>
<rect x="370.39" y="238.5" width="1.6" height="7.75" fill="#c8cacc"/>
<rect x="331.75" y="201.7" width="8.05" height="1.6" fill="#c8cacc"/>
<rect x="407.8" y="201.7" width="7.7" height="1.6" fill="#c8cacc"/>
<rect x="372.95" y="164.5" width="1.6" height="7" fill="#c8cacc"/>
<rect x="372.95" y="238.5" width="1.6" height="7.75" fill="#c8cacc"/>
<rect x="331.75" y="204.2" width="8.05" height="1.6" fill="#c8cacc"/>
<rect x="407.8" y="204.2" width="7.7" height="1.6" fill="#c8cacc"/>
<rect x="375.51" y="164.5" width="1.6" height="7" fill="#c8cacc"/>
<rect x="375.51" y="238.5" width="1.6" height="7.75" fill="#c8cacc"/>
<rect x="331.75" y="206.7" width="8.05" height="1.6" fill="#c8cacc"/>
<rect x="407.8" y="206.7" width="7.7" height="1.6" fill="#c8cacc"/>
<rect x="378.07" y="164.5" width="1.6" height="7" fill="#c8cacc"/>
<rect x="378.07" y="238.5" width="1.6" height="7.75" fill="#c8cacc"/>
<rect x="331.75" y="209.2" width="8.05" height="1.6" fill="#c8cacc"/>
<rect x="407.8" y="209.2" width="7.7" height="1.6" fill="#c8cacc"/>
<rect x="380.64" y="164.5" width="1.6" height="7" fill="#c8cacc"/>
<rect x="380.64" y="238.5" width="1.6" height="7.75" fill="#c8cacc"/>
<rect x="331.75" y="211.7" width="8.05" height="1.6" fill="#c8cacc"/>
<rect x="407.8" y="211.7" width="7.7" height="1.6" fill="#c8cacc"/>
<rect x="383.2" y="164.5" width="1.6" height="7" fill="#c8cacc"/>
<rect x="383.2" y="238.5" width="1.6" height="7.75" fill="#c8cacc"/>
<rect x="331.75" y="214.2" width="8.05" height="1.6" fill="#c8cacc"/>
<rect x="407.8" y="214.2" width="7.7" height="1.6" fill="#c8cacc"/>
<rect x="385.76" y="164.5" width="1.6" height="7" fill="#c8cacc"/>
<rect x="385.76" y="238.5" width="1.6" height="7.75" fill="#c8cacc"/>
<rect x="331.75" y="216.7" width="8.05" height="1.6" fill="#c8cacc"/>
<rect x="407.8" y="216.7" width="7.7" height="1.6" fill="#c8cacc"/>
<rect x="388.32" y="164.5" width="1.6" height="7" fill="#c8cacc"/>
<rect x="388.32" y="238.5" width="1.6" height="7.75" fill="#c8cacc"/>
<rect x="331.75" y="219.2" width="8.05" height="1.6" fill="#c8cacc"/>
<rect x="407.8" y="219.2" width="7.7" height="1.6" fill="#c8cacc"/>
<rect x="390.89" y="164.5" width="1.6" height="7" fill="#c8cacc"/>
<rect x="390.89" y="238.5" width="1.6" height="7.75" fill="#c8cacc"/>
<rect x="331.75" y="221.7" width="8.05" height="1.6" fill="#c8cacc"/>
<rect x="407.8" y="221.7" width="7.7" height="1.6" fill="#c8cacc"/>
<rect x="393.45" y="164.5" width="1.6" height="7" fill="#c8cacc"/>
<rect x="393.45" y="238.5" width="1.6" height="7.75" fill="#c8cacc"/>
<rect x="331.75" y="224.2" width="8.05" height="1.6" fill="#c8cacc"/>
<rect x="407.8" y="224.2" width="7.7" height="1.6" fill="#c8cacc"/>
<rect x="396.01" y="164.5" width="1.6" height="7" fill="#c8cacc"/>
<rect x="396.01" y="238.5" width="1.6" height="7.75" fill="#c8cacc"/>
<rect x="331.75" y="226.7" width="8.05" height="1.6" fill="#c8cacc"/>
<rect x="407.8" y="226.7" width="7.7" height="1.6" fill="#c8cacc"/>
<rect x="398.57" y="164.5" width="1.6" height="7" fill="#c8cacc"/>
<rect x="398.57" y="238.5" width="1.6" height="7.75" fill="#c8cacc"/>
<rect x="331.75" y="229.2" width="8.05" height="1.6" fill="#c8cacc"/>
<rect x="407.8" y="229.2" width="7.7" height="1.6" fill="#c8cacc"/>
<rect x="401.14" y="164.5" width="1.6" height="7" fill="#c8cacc"/>
<rect x="401.14" y="238.5" width="1.6" height="7.75" fill="#c8cacc"/>
<rect x="331.75" y="231.7" width="8.05" height="1.6" fill="#c8cacc"/>
<rect x="407.8" y="231.7" width="7.7" height="1.6" fill="#c8cacc"/>
<rect x="403.7" y="164.5" width="1.6" height="7" fill="#c8cacc"/>
<rect x="403.7" y="238.5" width="1.6" height="7.75" fill="#c8cacc"/>
<rect x="331.75" y="234.2" width="8.05" height="1.6" fill="#c8cacc"/>
<rect x="407.8" y="234.2" width="7.7" height="1.6" fill="#c8cacc"/>
<rect x="339.5" y="171.25" width="68.5" height="67.5" fill="#3a3b3d" rx="1.5"/>
<circle cx="346.75" cy="178.75" r="3.2" fill="#1c1d1e"/><circle cx="400.5" cy="231.25" r="3.2" fill="#1c1d1e"/>
<text x="354" y="200" font-size="8" font-weight="normal" fill="#7d8082" textLength="38.5" lengthAdjust="spacingAndGlyphs" font-family="Liberation Mono">06ANTJT64</text>
<text x="347.5" y="208.8" font-size="8" font-weight="normal" fill="#7d8082" textLength="45" lengthAdjust="spacingAndGlyphs" font-family="Liberation Mono">TFP401APZP</text>
<path d="M347.5,194.5 L352,194 L352.5,196 L350.5,199.5 L348.5,198 Z" fill="#7d8082"/>
<rect x="431.6" y="179.6" width="13.8" height="12.8" fill="none" rx="1" stroke="#f4f6f8" stroke-width="1.35"/>
<rect x="432.8" y="180.3" width="11.4" height="4.4" fill="#d6d6d2" rx="0.5"/>
<rect x="437.13" y="181" width="2.74" height="3" fill="#505152"/>
<rect x="432.8" y="187.3" width="11.4" height="4.4" fill="#d6d6d2" rx="0.5"/>
<rect x="437.13" y="188" width="2.74" height="3" fill="#505152"/>
<rect x="431.6" y="194.6" width="13.8" height="7.8" fill="none" rx="4.5" stroke="#f4f6f8" stroke-width="1.35"/>
<rect x="432.8" y="195.8" width="11.4" height="5.4" fill="#d6d6d2" rx="0.6"/>
<rect x="436.56" y="196.1" width="3.88" height="4.8" fill="#b9a27f"/>
<rect x="431.6" y="206.6" width="13.8" height="25.8" fill="none" rx="1" stroke="#f4f6f8" stroke-width="1.35"/>
<rect x="432.8" y="207.3" width="11.4" height="6.4" fill="#d6d6d2" rx="0.5"/>
<rect x="437.13" y="208" width="2.74" height="5" fill="#505152"/>
<rect x="432.8" y="216.3" width="11.4" height="6.4" fill="#d6d6d2" rx="0.5"/>
<rect x="437.13" y="217" width="2.74" height="5" fill="#505152"/>
<rect x="432.8" y="225.3" width="11.4" height="6.4" fill="#d6d6d2" rx="0.5"/>
<rect x="437.13" y="226" width="2.74" height="5" fill="#505152"/>
<rect x="431.6" y="233.6" width="13.8" height="8.3" fill="none" rx="4.75" stroke="#f4f6f8" stroke-width="1.35"/>
<rect x="432.8" y="234.8" width="11.4" height="5.9" fill="#d6d6d2" rx="0.6"/>
<rect x="436.56" y="235.1" width="3.88" height="5.3" fill="#b9a27f"/>
<rect x="281.1" y="265.1" width="7.3" height="14.3" fill="none" rx="1.2" stroke="#f4f6f8" stroke-width="1.35"/>
<rect x="282.3" y="266.3" width="4.9" height="11.9" fill="#d6d6d2" rx="0.6"/>
<rect x="282.6" y="270.23" width="4.3" height="4.05" fill="#4c4d4e"/>
<rect x="289.6" y="265.1" width="7.3" height="14.3" fill="none" rx="1.2" stroke="#f4f6f8" stroke-width="1.35"/>
<rect x="290.8" y="266.3" width="4.9" height="11.9" fill="#d6d6d2" rx="0.6"/>
<rect x="291.1" y="270.23" width="4.3" height="4.05" fill="#4c4d4e"/>
<rect x="298.1" y="265.1" width="7.3" height="14.3" fill="none" rx="1.2" stroke="#f4f6f8" stroke-width="1.35"/>
<rect x="299.3" y="266.3" width="4.9" height="11.9" fill="#d6d6d2" rx="0.6"/>
<rect x="299.6" y="270.23" width="4.3" height="4.05" fill="#4c4d4e"/>
<rect x="306.6" y="265.1" width="7.3" height="14.3" fill="none" rx="1.2" stroke="#f4f6f8" stroke-width="1.35"/>
<rect x="307.8" y="266.3" width="4.9" height="11.9" fill="#d6d6d2" rx="0.6"/>
<rect x="308.1" y="270.23" width="4.3" height="4.05" fill="#4c4d4e"/>
<rect x="315.1" y="265.1" width="7.3" height="14.3" fill="none" rx="1.2" stroke="#f4f6f8" stroke-width="1.35"/>
<rect x="316.3" y="266.3" width="4.9" height="11.9" fill="#d6d6d2" rx="0.6"/>
<rect x="316.6" y="270.23" width="4.3" height="4.05" fill="#4c4d4e"/>
<rect x="323.6" y="265.1" width="7.3" height="14.3" fill="none" rx="1.2" stroke="#f4f6f8" stroke-width="1.35"/>
<rect x="324.8" y="266.3" width="4.9" height="11.9" fill="#d6d6d2" rx="0.6"/>
<rect x="325.1" y="270.23" width="4.3" height="4.05" fill="#4c4d4e"/>
<rect x="332.1" y="265.1" width="7.3" height="14.3" fill="none" rx="1.2" stroke="#f4f6f8" stroke-width="1.35"/>
<rect x="333.3" y="266.3" width="4.9" height="11.9" fill="#d6d6d2" rx="0.6"/>
<rect x="333.6" y="270.23" width="4.3" height="4.05" fill="#4c4d4e"/>
<rect x="340.6" y="265.1" width="7.3" height="14.3" fill="none" rx="1.2" stroke="#f4f6f8" stroke-width="1.35"/>
<rect x="341.8" y="266.3" width="4.9" height="11.9" fill="#d6d6d2" rx="0.6"/>
<rect x="342.1" y="270.23" width="4.3" height="4.05" fill="#4c4d4e"/>
<rect x="349.1" y="265.1" width="7.3" height="14.3" fill="none" rx="1.2" stroke="#f4f6f8" stroke-width="1.35"/>
<rect x="350.3" y="266.3" width="4.9" height="11.9" fill="#d6d6d2" rx="0.6"/>
<rect x="350.6" y="270.23" width="4.3" height="4.05" fill="#4c4d4e"/>
<rect x="360.1" y="265.6" width="19.3" height="5.8" fill="none" rx="1" stroke="#f4f6f8" stroke-width="1.35"/>
<rect x="360.8" y="266.8" width="4.23" height="3.4" fill="#d6d6d2" rx="0.5"/>
<rect x="361.5" y="268.09" width="2.83" height="0.82" fill="#505152"/>
<rect x="367.63" y="266.8" width="4.23" height="3.4" fill="#d6d6d2" rx="0.5"/>
<rect x="368.33" y="268.09" width="2.83" height="0.82" fill="#505152"/>
<rect x="374.47" y="266.8" width="4.23" height="3.4" fill="#d6d6d2" rx="0.5"/>
<rect x="375.17" y="268.09" width="2.83" height="0.82" fill="#505152"/>
<rect x="384.6" y="265.6" width="19.8" height="5.8" fill="none" rx="1" stroke="#f4f6f8" stroke-width="1.35"/>
<rect x="385.3" y="266.8" width="4.4" height="3.4" fill="#d6d6d2" rx="0.5"/>
<rect x="386" y="268.09" width="3" height="0.82" fill="#505152"/>
<rect x="392.3" y="266.8" width="4.4" height="3.4" fill="#d6d6d2" rx="0.5"/>
<rect x="393" y="268.09" width="3" height="0.82" fill="#505152"/>
<rect x="399.3" y="266.8" width="4.4" height="3.4" fill="#d6d6d2" rx="0.5"/>
<rect x="400" y="268.09" width="3" height="0.82" fill="#505152"/>
<rect x="388.6" y="267.6" width="6.8" height="13.8" fill="none" rx="4" stroke="#f4f6f8" stroke-width="1.35"/>
<rect x="389.8" y="268.8" width="4.4" height="11.4" fill="#d6d6d2" rx="0.6"/>
<rect x="390.1" y="272.56" width="3.8" height="3.88" fill="#b9a27f"/>
<rect x="403.6" y="265.6" width="19.55" height="5.8" fill="none" rx="1" stroke="#f4f6f8" stroke-width="1.35"/>
<rect x="404.3" y="266.8" width="4.32" height="3.4" fill="#d6d6d2" rx="0.5"/>
<rect x="405" y="268.09" width="2.92" height="0.82" fill="#505152"/>
<rect x="411.22" y="266.8" width="4.32" height="3.4" fill="#d6d6d2" rx="0.5"/>
<rect x="411.92" y="268.09" width="2.92" height="0.82" fill="#505152"/>
<rect x="418.13" y="266.8" width="4.32" height="3.4" fill="#d6d6d2" rx="0.5"/>
<rect x="418.83" y="268.09" width="2.92" height="0.82" fill="#505152"/>
<rect x="249.6" y="280.6" width="14.8" height="6.3" fill="none" rx="3.75" stroke="#f4f6f8" stroke-width="1.35"/>
<rect x="250.8" y="281.8" width="12.4" height="3.9" fill="#d6d6d2" rx="0.6"/>
<rect x="254.89" y="282.1" width="4.22" height="3.3" fill="#b9a27f"/>
<rect x="93.6" y="228.9" width="11.6" height="18.8" fill="none" rx="1.2" stroke="#f4f6f8" stroke-width="1.35"/>
<rect x="94.8" y="230.1" width="9.2" height="16.4" fill="#d6d6d2" rx="0.6"/>
<rect x="95.1" y="235.51" width="8.6" height="5.58" fill="#4c4d4e"/>
<path d="M61.7,252 Q61.7,248.3 66,248.3 L88,248.3 L92.5,252 L92.5,284.5 L88,288.3 L66,288.3 Q61.7,288.3 61.7,284.5 Z" fill="#e6e7e8" stroke="#a9abad" stroke-width="0.8"/>
<rect x="64" y="252" width="22" height="32" fill="#f4f5f5" rx="2"/>
<rect x="86" y="258" width="6.5" height="20" fill="#4a4d50"/>
<rect x="86.5" y="260" width="6.5" height="1.4" fill="#d5d7d9"/>
<rect x="86.5" y="263.7" width="6.5" height="1.4" fill="#d5d7d9"/>
<rect x="86.5" y="267.4" width="6.5" height="1.4" fill="#d5d7d9"/>
<rect x="86.5" y="271.1" width="6.5" height="1.4" fill="#d5d7d9"/>
<rect x="86.5" y="274.8" width="6.5" height="1.4" fill="#d5d7d9"/>
<circle cx="74" cy="246.5" r="3" fill="#cfd1d2"/><circle cx="74" cy="290" r="3" fill="#cfd1d2"/>
<text transform="translate(106.7,280) rotate(-90)" font-size="8.4" font-weight="bold" fill="#fff" textLength="24.5" lengthAdjust="spacingAndGlyphs">Touch</text>
<circle cx="127.2" cy="242.8" r="6.7" fill="#17478f" stroke="#f4f6f8" stroke-width="1.9"/><circle cx="127.2" cy="242.8" r="3.4" fill="#cfcfc6"/><circle cx="127.2" cy="242.8" r="1.2" fill="#8c8c84"/>
<circle cx="127.2" cy="258.6" r="6.7" fill="#17478f" stroke="#f4f6f8" stroke-width="1.9"/><circle cx="127.2" cy="258.6" r="3.4" fill="#cfcfc6"/><circle cx="127.2" cy="258.6" r="1.2" fill="#8c8c84"/>
<circle cx="127.2" cy="274.3" r="6.7" fill="#17478f" stroke="#f4f6f8" stroke-width="1.9"/><circle cx="127.2" cy="274.3" r="3.4" fill="#cfcfc6"/><circle cx="127.2" cy="274.3" r="1.2" fill="#8c8c84"/>
<circle cx="127.2" cy="289.6" r="6.7" fill="#17478f" stroke="#f4f6f8" stroke-width="1.9"/><circle cx="127.2" cy="289.6" r="3.4" fill="#cfcfc6"/><circle cx="127.2" cy="289.6" r="1.2" fill="#8c8c84"/>
<text x="137.8" y="246.2" font-size="8.6" font-weight="bold" fill="#fff" textLength="10.5" lengthAdjust="spacingAndGlyphs">5V</text>
<text x="137.8" y="258.9" font-size="8.6" font-weight="bold" fill="#fff" textLength="13" lengthAdjust="spacingAndGlyphs">DN</text>
<text x="137.8" y="279.5" font-size="8.6" font-weight="bold" fill="#fff" textLength="13" lengthAdjust="spacingAndGlyphs">DP</text>
<text x="137.8" y="293.2" font-size="8.6" font-weight="bold" fill="#fff" textLength="19.5" lengthAdjust="spacingAndGlyphs">GND</text>
<rect x="139.7" y="262.2" width="15.6" height="8.1" fill="none" stroke="#f4f6f8" stroke-width="1.1"/>
<rect x="141.5" y="263.8" width="12" height="4.9" fill="#3a2a22"/>
<rect x="144.5" y="264.1" width="6" height="4.3" fill="#c2502a"/>
<rect x="162.3" y="258.9" width="15.4" height="23" fill="none" rx="1" stroke="#f4f6f8" stroke-width="1.35"/>
<rect x="163.5" y="259.6" width="13" height="5.47" fill="#d6d6d2" rx="0.5"/>
<rect x="168.44" y="260.3" width="3.12" height="4.07" fill="#505152"/>
<rect x="163.5" y="267.67" width="13" height="5.47" fill="#d6d6d2" rx="0.5"/>
<rect x="168.44" y="268.37" width="3.12" height="4.07" fill="#505152"/>
<rect x="163.5" y="275.73" width="13" height="5.47" fill="#d6d6d2" rx="0.5"/>
<rect x="168.44" y="276.43" width="3.12" height="4.07" fill="#505152"/>
<text transform="translate(187.5,291.7) rotate(-90)" font-size="8.6" font-weight="bold" fill="#fff" textLength="19" lengthAdjust="spacingAndGlyphs">PWM</text>
<text transform="translate(203.3,291.7) rotate(-90)" font-size="8.6" font-weight="bold" fill="#fff" textLength="18.5" lengthAdjust="spacingAndGlyphs">GND</text>
<circle cx="184.2" cy="301.7" r="6.7" fill="#17478f" stroke="#f4f6f8" stroke-width="1.9"/><circle cx="184.2" cy="301.7" r="3.5" fill="#77786e"/><circle cx="184.2" cy="301.7" r="1.3" fill="#b8b8b0"/>
<circle cx="200" cy="301.7" r="6.7" fill="#17478f" stroke="#f4f6f8" stroke-width="1.9"/><circle cx="200" cy="301.7" r="3.5" fill="#77786e"/><circle cx="200" cy="301.7" r="1.3" fill="#b8b8b0"/>
<text x="83.5" y="310.9" font-size="8.2" font-weight="bold" fill="#fff" textLength="12" lengthAdjust="spacingAndGlyphs">ON</text>
<rect x="67.7" y="320" width="43.3" height="3.2" fill="#dcdedf" rx="1.5"/>
<rect x="67.7" y="332.1" width="43.3" height="3.2" fill="#dcdedf" rx="1.5"/>
<rect x="67.7" y="344.1" width="43.3" height="3.2" fill="#dcdedf" rx="1.5"/>
<rect x="79.1" y="313.4" width="17.1" height="41.8" fill="#c9cbcc" rx="1.5"/>
<rect x="80.5" y="315" width="14.3" height="38.5" fill="#dadcdd" rx="1"/>
<rect x="82.3" y="324.8" width="8.8" height="19" fill="#222426" rx="1"/>
<text x="82" y="360" font-size="8.2" font-weight="bold" fill="#fff" textLength="15" lengthAdjust="spacingAndGlyphs">OFF</text>
<rect x="78" y="355.2" width="20" height="2.3" fill="#1458ac"/>
<text x="71.2" y="374.3" font-size="8.3" font-weight="bold" fill="#fff" textLength="37.7" lengthAdjust="spacingAndGlyphs">Backlight</text>
<rect x="153.1" y="319" width="6.3" height="13.8" fill="none" rx="1.2" stroke="#f4f6f8" stroke-width="1.35"/>
<rect x="154.3" y="320.2" width="3.9" height="11.4" fill="#d6d6d2" rx="0.6"/>
<rect x="154.6" y="323.96" width="3.3" height="3.88" fill="#8d7b63"/>
<rect x="176.6" y="319" width="7.2" height="13.8" fill="none" rx="1.2" stroke="#f4f6f8" stroke-width="1.35"/>
<rect x="177.8" y="320.2" width="4.8" height="11.4" fill="#d6d6d2" rx="0.6"/>
<rect x="178.1" y="323.96" width="4.2" height="3.88" fill="#4c4d4e"/>
<rect x="153.26" y="343.75" width="1.86" height="8.45" fill="#d4d6d8"/>
<rect x="153.26" y="373.75" width="1.86" height="8.45" fill="#d4d6d8"/>
<rect x="156.63" y="343.75" width="1.86" height="8.45" fill="#d4d6d8"/>
<rect x="156.63" y="373.75" width="1.86" height="8.45" fill="#d4d6d8"/>
<rect x="160.01" y="343.75" width="1.86" height="8.45" fill="#d4d6d8"/>
<rect x="160.01" y="373.75" width="1.86" height="8.45" fill="#d4d6d8"/>
<rect x="163.38" y="343.75" width="1.86" height="8.45" fill="#d4d6d8"/>
<rect x="163.38" y="373.75" width="1.86" height="8.45" fill="#d4d6d8"/>
<rect x="166.76" y="343.75" width="1.86" height="8.45" fill="#d4d6d8"/>
<rect x="166.76" y="373.75" width="1.86" height="8.45" fill="#d4d6d8"/>
<rect x="170.13" y="343.75" width="1.86" height="8.45" fill="#d4d6d8"/>
<rect x="170.13" y="373.75" width="1.86" height="8.45" fill="#d4d6d8"/>
<rect x="173.51" y="343.75" width="1.86" height="8.45" fill="#d4d6d8"/>
<rect x="173.51" y="373.75" width="1.86" height="8.45" fill="#d4d6d8"/>
<rect x="176.88" y="343.75" width="1.86" height="8.45" fill="#d4d6d8"/>
<rect x="176.88" y="373.75" width="1.86" height="8.45" fill="#d4d6d8"/>
<rect x="180.26" y="343.75" width="1.86" height="8.45" fill="#d4d6d8"/>
<rect x="180.26" y="373.75" width="1.86" height="8.45" fill="#d4d6d8"/>
<rect x="183.63" y="343.75" width="1.86" height="8.45" fill="#d4d6d8"/>
<rect x="183.63" y="373.75" width="1.86" height="8.45" fill="#d4d6d8"/>
<rect x="152.5" y="352.2" width="33.75" height="21.55" fill="#323436" rx="0.8"/>
<text x="160" y="364" font-size="6" font-weight="normal" fill="#55585a" textLength="20" lengthAdjust="spacingAndGlyphs">MS9920</text>
<rect x="151.2" y="391.2" width="35.4" height="14.8" fill="none" rx="1" stroke="#f4f6f8" stroke-width="1.35"/>
<rect x="151.9" y="392.4" width="4.72" height="12.4" fill="#d6d6d2" rx="0.5"/>
<rect x="152.6" y="397.11" width="3.32" height="2.98" fill="#505152"/>
<rect x="159.22" y="392.4" width="4.72" height="12.4" fill="#d6d6d2" rx="0.5"/>
<rect x="159.92" y="397.11" width="3.32" height="2.98" fill="#505152"/>
<rect x="166.54" y="392.4" width="4.72" height="12.4" fill="#d6d6d2" rx="0.5"/>
<rect x="167.24" y="397.11" width="3.32" height="2.98" fill="#505152"/>
<rect x="173.86" y="392.4" width="4.72" height="12.4" fill="#d6d6d2" rx="0.5"/>
<rect x="174.56" y="397.11" width="3.32" height="2.98" fill="#505152"/>
<rect x="181.18" y="392.4" width="4.72" height="12.4" fill="#d6d6d2" rx="0.5"/>
<rect x="181.88" y="397.11" width="3.32" height="2.98" fill="#505152"/>
<rect x="236.7" y="296.7" width="42.6" height="31.1" fill="#16468f" stroke="#f4f6f8" stroke-width="1.4"/>
<rect x="249" y="299" width="1.6" height="10" fill="#d5d7d8"/>
<rect x="252.2" y="299" width="1.6" height="10" fill="#d5d7d8"/>
<rect x="255.4" y="299" width="1.6" height="10" fill="#d5d7d8"/>
<rect x="258.6" y="299" width="1.6" height="10" fill="#d5d7d8"/>
<rect x="261.8" y="299" width="1.6" height="10" fill="#d5d7d8"/>
<rect x="265" y="299" width="1.6" height="10" fill="#d5d7d8"/>
<rect x="238.75" y="308" width="39.25" height="16" fill="#f1f0ea" rx="1"/>
<rect x="240" y="310" width="36" height="12" fill="#e3e2db"/>
<rect x="235" y="324" width="46" height="7.6" fill="#404244" rx="1.5"/>
<rect x="250" y="331.6" width="17" height="34.65" fill="#1f2021"/>
<rect x="250" y="340.3" width="17" height="1.5" fill="#d8841e"/>
<rect x="242" y="365.3" width="30.5" height="13.1" fill="#2c2d2f" rx="1.5"/>
<rect x="244" y="367" width="8" height="10" fill="#5a5c5e" rx="1"/>
<text x="244" y="306.5" font-size="8" font-weight="bold" fill="#fff" textLength="4.6" lengthAdjust="spacingAndGlyphs">6</text>
<text x="267.5" y="306.5" font-size="8" font-weight="bold" fill="#fff" textLength="3.4" lengthAdjust="spacingAndGlyphs">1</text>
<text x="253.5" y="360.5" font-size="5.5" font-weight="bold" fill="#e8e8e8" textLength="10.5" lengthAdjust="spacingAndGlyphs">1259</text>
<text x="251.5" y="349.5" font-size="5.5" font-weight="bold" fill="#e8e8e8" textLength="3" lengthAdjust="spacingAndGlyphs">9</text>
<text x="262" y="349.5" font-size="5.5" font-weight="bold" fill="#e8e8e8" textLength="2.5" lengthAdjust="spacingAndGlyphs">1</text>
<rect x="381.6" y="341.6" width="56.8" height="16.8" fill="none" rx="1" stroke="#f4f6f8" stroke-width="1.35"/>
<rect x="382.3" y="342.8" width="5.69" height="14.4" fill="#d6d6d2" rx="0.5"/>
<rect x="383" y="348.27" width="4.29" height="3.46" fill="#505152"/>
<rect x="390.59" y="342.8" width="5.69" height="14.4" fill="#d6d6d2" rx="0.5"/>
<rect x="391.29" y="348.27" width="4.29" height="3.46" fill="#505152"/>
<rect x="398.87" y="342.8" width="5.69" height="14.4" fill="#d6d6d2" rx="0.5"/>
<rect x="399.57" y="348.27" width="4.29" height="3.46" fill="#505152"/>
<rect x="407.16" y="342.8" width="5.69" height="14.4" fill="#d6d6d2" rx="0.5"/>
<rect x="407.86" y="348.27" width="4.29" height="3.46" fill="#505152"/>
<rect x="415.44" y="342.8" width="5.69" height="14.4" fill="#d6d6d2" rx="0.5"/>
<rect x="416.14" y="348.27" width="4.29" height="3.46" fill="#505152"/>
<rect x="423.73" y="342.8" width="5.69" height="14.4" fill="#d6d6d2" rx="0.5"/>
<rect x="424.43" y="348.27" width="4.29" height="3.46" fill="#505152"/>
<rect x="432.01" y="342.8" width="5.69" height="14.4" fill="#d6d6d2" rx="0.5"/>
<rect x="432.71" y="348.27" width="4.29" height="3.46" fill="#505152"/>
<rect x="521.6" y="335.6" width="7.3" height="15.3" fill="none" rx="1.2" stroke="#f4f6f8" stroke-width="1.35"/>
<rect x="522.8" y="336.8" width="4.9" height="12.9" fill="#d6d6d2" rx="0.6"/>
<rect x="523.1" y="341.06" width="4.3" height="4.39" fill="#4c4d4e"/>
<rect x="531.3" y="335.6" width="5.7" height="15.3" fill="none" rx="3.45" stroke="#f4f6f8" stroke-width="1.35"/>
<rect x="532.5" y="336.8" width="3.3" height="12.9" fill="#d6d6d2" rx="0.6"/>
<rect x="532.8" y="341.06" width="2.7" height="4.39" fill="#b9a27f"/>
<rect x="541.3" y="335.6" width="5.7" height="15.3" fill="none" rx="1.2" stroke="#f4f6f8" stroke-width="1.35"/>
<rect x="542.5" y="336.8" width="3.3" height="12.9" fill="#d6d6d2" rx="0.6"/>
<rect x="542.8" y="341.06" width="2.7" height="4.39" fill="#4c4d4e"/>
<rect x="549.6" y="334.1" width="7.5" height="17.3" fill="none" rx="4.35" stroke="#f4f6f8" stroke-width="1.35"/>
<rect x="550.8" y="335.3" width="5.1" height="14.9" fill="#d6d6d2" rx="0.6"/>
<rect x="551.1" y="340.22" width="4.5" height="5.07" fill="#b9a27f"/>
<rect x="559.6" y="335.6" width="6.3" height="15.3" fill="none" rx="1.2" stroke="#f4f6f8" stroke-width="1.35"/>
<rect x="560.8" y="336.8" width="3.9" height="12.9" fill="#d6d6d2" rx="0.6"/>
<rect x="561.1" y="341.06" width="3.3" height="4.39" fill="#4c4d4e"/>
<rect x="567.6" y="335.6" width="6.4" height="15.3" fill="none" rx="1.2" stroke="#f4f6f8" stroke-width="1.35"/>
<rect x="568.8" y="336.8" width="4" height="12.9" fill="#d6d6d2" rx="0.6"/>
<rect x="569.1" y="341.06" width="3.4" height="4.39" fill="#4c4d4e"/>
<rect x="575.6" y="335.6" width="5.8" height="15.3" fill="none" rx="3.5" stroke="#f4f6f8" stroke-width="1.35"/>
<rect x="576.8" y="336.8" width="3.4" height="12.9" fill="#d6d6d2" rx="0.6"/>
<rect x="577.1" y="341.06" width="2.8" height="4.39" fill="#b9a27f"/>
<rect x="401.6" y="367.8" width="150.6" height="34.5" fill="#103f88" stroke="#f4f6f8" stroke-width="1.3"/>
<defs><pattern id="stripes" patternUnits="userSpaceOnUse" x="414" y="0" width="2.45" height="10"><rect width="2.45" height="10" fill="#c98510"/><rect x="0.9" width="1" height="10" fill="#f0b53a"/></pattern><pattern id="stripes2" patternUnits="userSpaceOnUse" x="414" y="0" width="2.45" height="10" patternTransform="skewX(-8)"><rect width="2.45" height="10" fill="#c98510"/><rect x="0.9" width="1" height="10" fill="#f0b53a"/></pattern></defs>
<rect x="371.25" y="487" width="221.25" height="25.5" fill="#cfd3d5" rx="1"/>
<rect x="372.5" y="488.5" width="40.5" height="22.5" fill="#e6e9ea"/>
<rect x="572" y="488.5" width="19" height="22.5" fill="#e6e9ea"/>
<polygon points="413.75,402 540,402 540,448 571,486 571.25,511.5 407.5,511.5 413.75,487" fill="url(#stripes)"/>
<polygon points="540,448 571,486 571.25,511.5 540,511.5" fill="#d4921c" opacity="0.8"/>
<polyline points="536,448 567,486 567,511" fill="none" stroke="#a86a08" stroke-width="0.8"/>
<polyline points="532,448 563,486 563,511" fill="none" stroke="#a86a08" stroke-width="0.8"/>
<polyline points="528,448 559,486 559,511" fill="none" stroke="#a86a08" stroke-width="0.8"/>
<polyline points="524,448 555,486 555,511" fill="none" stroke="#a86a08" stroke-width="0.8"/>
<rect x="413.75" y="402" width="126.25" height="4" fill="#d9cfa8"/>
<rect x="514.5" y="478.75" width="31.75" height="31.25" fill="#dd8a28"/>
<rect x="516.5" y="480.5" width="28" height="28" fill="#e59634"/>
<rect x="415" y="371.5" width="122.5" height="10" fill="#2a2f3a"/>
<rect x="414.4" y="371" width="1.2" height="11.5" fill="#e2e2dc"/>
<rect x="416.41" y="371" width="1.2" height="11.5" fill="#e2e2dc"/>
<rect x="418.42" y="371" width="1.2" height="11.5" fill="#e2e2dc"/>
<rect x="420.42" y="371" width="1.2" height="11.5" fill="#e2e2dc"/>
<rect x="422.43" y="371" width="1.2" height="11.5" fill="#e2e2dc"/>
<rect x="424.44" y="371" width="1.2" height="11.5" fill="#e2e2dc"/>
<rect x="426.45" y="371" width="1.2" height="11.5" fill="#e2e2dc"/>
<rect x="428.46" y="371" width="1.2" height="11.5" fill="#e2e2dc"/>
<rect x="430.47" y="371" width="1.2" height="11.5" fill="#e2e2dc"/>
<rect x="432.47" y="371" width="1.2" height="11.5" fill="#e2e2dc"/>
<rect x="434.48" y="371" width="1.2" height="11.5" fill="#e2e2dc"/>
<rect x="436.49" y="371" width="1.2" height="11.5" fill="#e2e2dc"/>
<rect x="438.5" y="371" width="1.2" height="11.5" fill="#e2e2dc"/>
<rect x="440.51" y="371" width="1.2" height="11.5" fill="#e2e2dc"/>
<rect x="442.51" y="371" width="1.2" height="11.5" fill="#e2e2dc"/>
<rect x="444.52" y="371" width="1.2" height="11.5" fill="#e2e2dc"/>
<rect x="446.53" y="371" width="1.2" height="11.5" fill="#e2e2dc"/>
<rect x="448.54" y="371" width="1.2" height="11.5" fill="#e2e2dc"/>
<rect x="450.55" y="371" width="1.2" height="11.5" fill="#e2e2dc"/>
<rect x="452.56" y="371" width="1.2" height="11.5" fill="#e2e2dc"/>
<rect x="454.56" y="371" width="1.2" height="11.5" fill="#e2e2dc"/>
<rect x="456.57" y="371" width="1.2" height="11.5" fill="#e2e2dc"/>
<rect x="458.58" y="371" width="1.2" height="11.5" fill="#e2e2dc"/>
<rect x="460.59" y="371" width="1.2" height="11.5" fill="#e2e2dc"/>
<rect x="462.6" y="371" width="1.2" height="11.5" fill="#e2e2dc"/>
<rect x="464.6" y="371" width="1.2" height="11.5" fill="#e2e2dc"/>
<rect x="466.61" y="371" width="1.2" height="11.5" fill="#e2e2dc"/>
<rect x="468.62" y="371" width="1.2" height="11.5" fill="#e2e2dc"/>
<rect x="470.63" y="371" width="1.2" height="11.5" fill="#e2e2dc"/>
<rect x="472.64" y="371" width="1.2" height="11.5" fill="#e2e2dc"/>
<rect x="474.65" y="371" width="1.2" height="11.5" fill="#e2e2dc"/>
<rect x="476.65" y="371" width="1.2" height="11.5" fill="#e2e2dc"/>
<rect x="478.66" y="371" width="1.2" height="11.5" fill="#e2e2dc"/>
<rect x="480.67" y="371" width="1.2" height="11.5" fill="#e2e2dc"/>
<rect x="482.68" y="371" width="1.2" height="11.5" fill="#e2e2dc"/>
<rect x="484.69" y="371" width="1.2" height="11.5" fill="#e2e2dc"/>
<rect x="486.7" y="371" width="1.2" height="11.5" fill="#e2e2dc"/>
<rect x="488.7" y="371" width="1.2" height="11.5" fill="#e2e2dc"/>
<rect x="490.71" y="371" width="1.2" height="11.5" fill="#e2e2dc"/>
<rect x="492.72" y="371" width="1.2" height="11.5" fill="#e2e2dc"/>
<rect x="494.73" y="371" width="1.2" height="11.5" fill="#e2e2dc"/>
<rect x="496.74" y="371" width="1.2" height="11.5" fill="#e2e2dc"/>
<rect x="498.74" y="371" width="1.2" height="11.5" fill="#e2e2dc"/>
<rect x="500.75" y="371" width="1.2" height="11.5" fill="#e2e2dc"/>
<rect x="502.76" y="371" width="1.2" height="11.5" fill="#e2e2dc"/>
<rect x="504.77" y="371" width="1.2" height="11.5" fill="#e2e2dc"/>
<rect x="506.78" y="371" width="1.2" height="11.5" fill="#e2e2dc"/>
<rect x="508.79" y="371" width="1.2" height="11.5" fill="#e2e2dc"/>
<rect x="510.79" y="371" width="1.2" height="11.5" fill="#e2e2dc"/>
<rect x="512.8" y="371" width="1.2" height="11.5" fill="#e2e2dc"/>
<rect x="514.81" y="371" width="1.2" height="11.5" fill="#e2e2dc"/>
<rect x="516.82" y="371" width="1.2" height="11.5" fill="#e2e2dc"/>
<rect x="518.83" y="371" width="1.2" height="11.5" fill="#e2e2dc"/>
<rect x="520.83" y="371" width="1.2" height="11.5" fill="#e2e2dc"/>
<rect x="522.84" y="371" width="1.2" height="11.5" fill="#e2e2dc"/>
<rect x="524.85" y="371" width="1.2" height="11.5" fill="#e2e2dc"/>
<rect x="526.86" y="371" width="1.2" height="11.5" fill="#e2e2dc"/>
<rect x="528.87" y="371" width="1.2" height="11.5" fill="#e2e2dc"/>
<rect x="530.88" y="371" width="1.2" height="11.5" fill="#e2e2dc"/>
<rect x="532.88" y="371" width="1.2" height="11.5" fill="#e2e2dc"/>
<rect x="534.89" y="371" width="1.2" height="11.5" fill="#e2e2dc"/>
<rect x="536.9" y="371" width="1.2" height="11.5" fill="#e2e2dc"/>
<rect x="413.75" y="381" width="126.25" height="20" fill="#f6f4ea"/>
<rect x="413.75" y="398" width="126.25" height="4" fill="#b8b49e"/>
<rect x="403.75" y="380" width="10" height="25" fill="#d6d8d8" rx="1"/>
<rect x="403.75" y="398" width="10" height="7" fill="#45474a" rx="1"/>
<rect x="540" y="380" width="11" height="25" fill="#d6d8d8" rx="1"/>
<rect x="540" y="398" width="11" height="7" fill="#45474a" rx="1"/>
<text x="404" y="379.6" font-size="8" font-weight="bold" fill="#fff" textLength="10" lengthAdjust="spacingAndGlyphs">50</text>
<text x="538.5" y="379.6" font-size="7.5" font-weight="bold" fill="#fff" textLength="3.5" lengthAdjust="spacingAndGlyphs">1</text>
<text transform="translate(510,442.5) rotate(180)" font-size="9.5" font-weight="bold" fill="#fff" textLength="69" lengthAdjust="spacingAndGlyphs">20000938-00</text>
<rect x="656.75" y="179.25" width="15.25" height="39" fill="none" stroke="#f4f6f8" stroke-width="1.1"/>
<rect x="658.5" y="181" width="11.8" height="35.5" fill="#d8d9d8"/>
<rect x="658.5" y="188.75" width="11.8" height="17.5" fill="#27292b"/>
<rect x="674.45" y="178.7" width="27.35" height="26.85" fill="none" stroke="#f4f6f8" stroke-width="1.4"/>
<rect x="675.95" y="180.2" width="24.35" height="23.85" fill="#2f3133" rx="1.5"/>
<circle cx="688.12" cy="192.12" r="12.93" fill="#6a6c6f"/>
<text x="680.5" y="195.8" font-size="8.2" font-weight="bold" fill="#1c1e20" textLength="15.5" lengthAdjust="spacingAndGlyphs">100</text>
<rect x="678.75" y="217.94" width="4.25" height="2.29" fill="#d4d6d8" rx="1.15"/>
<rect x="693" y="217.94" width="4.5" height="2.29" fill="#d4d6d8" rx="1.15"/>
<rect x="678.75" y="222.1" width="4.25" height="2.29" fill="#d4d6d8" rx="1.15"/>
<rect x="693" y="222.1" width="4.5" height="2.29" fill="#d4d6d8" rx="1.15"/>
<rect x="678.75" y="226.27" width="4.25" height="2.29" fill="#d4d6d8" rx="1.15"/>
<rect x="693" y="226.27" width="4.5" height="2.29" fill="#d4d6d8" rx="1.15"/>
<rect x="683" y="217" width="10" height="12.5" fill="#2e2f31" rx="0.8"/>
<rect x="701.6" y="214.35" width="10.3" height="17.55" fill="none" rx="5.75" stroke="#f4f6f8" stroke-width="1.35"/>
<rect x="702.8" y="215.55" width="7.9" height="15.15" fill="#d6d6d2" rx="0.6"/>
<rect x="703.1" y="220.55" width="7.3" height="5.15" fill="#b9a27f"/>
<rect x="714.35" y="216.1" width="6.05" height="15.3" fill="none" rx="1.2" stroke="#f4f6f8" stroke-width="1.35"/>
<rect x="715.55" y="217.3" width="3.65" height="12.9" fill="#d6d6d2" rx="0.6"/>
<rect x="715.85" y="221.56" width="3.05" height="4.39" fill="#4c4d4e"/>
<rect x="656.6" y="221.6" width="15.3" height="7.3" fill="none" rx="4.25" stroke="#f4f6f8" stroke-width="1.35"/>
<rect x="657.8" y="222.8" width="12.9" height="4.9" fill="#d6d6d2" rx="0.6"/>
<rect x="662.06" y="223.1" width="4.39" height="4.3" fill="#b9a27f"/>
<rect x="626.6" y="235.6" width="67.8" height="16.8" fill="none" rx="1" stroke="#f4f6f8" stroke-width="1.35"/>
<rect x="627.3" y="236.8" width="6.03" height="14.4" fill="#d6d6d2" rx="0.5"/>
<rect x="628" y="242.27" width="4.62" height="3.46" fill="#505152"/>
<rect x="635.92" y="236.8" width="6.03" height="14.4" fill="#d6d6d2" rx="0.5"/>
<rect x="636.62" y="242.27" width="4.62" height="3.46" fill="#505152"/>
<rect x="644.55" y="236.8" width="6.03" height="14.4" fill="#d6d6d2" rx="0.5"/>
<rect x="645.25" y="242.27" width="4.62" height="3.46" fill="#505152"/>
<rect x="653.17" y="236.8" width="6.03" height="14.4" fill="#d6d6d2" rx="0.5"/>
<rect x="653.88" y="242.27" width="4.62" height="3.46" fill="#505152"/>
<rect x="661.8" y="236.8" width="6.03" height="14.4" fill="#d6d6d2" rx="0.5"/>
<rect x="662.5" y="242.27" width="4.62" height="3.46" fill="#505152"/>
<rect x="670.42" y="236.8" width="6.03" height="14.4" fill="#d6d6d2" rx="0.5"/>
<rect x="671.12" y="242.27" width="4.62" height="3.46" fill="#505152"/>
<rect x="679.05" y="236.8" width="6.03" height="14.4" fill="#d6d6d2" rx="0.5"/>
<rect x="679.75" y="242.27" width="4.62" height="3.46" fill="#505152"/>
<rect x="687.67" y="236.8" width="6.03" height="14.4" fill="#d6d6d2" rx="0.5"/>
<rect x="688.38" y="242.27" width="4.62" height="3.46" fill="#505152"/>
<rect x="560.6" y="297.6" width="14.8" height="6.3" fill="none" rx="1.2" stroke="#f4f6f8" stroke-width="1.35"/>
<rect x="561.8" y="298.8" width="12.4" height="3.9" fill="#d6d6d2" rx="0.6"/>
<rect x="565.89" y="299.1" width="4.22" height="3.3" fill="#4c4d4e"/>
<rect x="550" y="309.5" width="25" height="18" fill="none" stroke="#f4f6f8" stroke-width="1.2"/>
<path d="M552,313 L557,313 L559,310.5 L567,310.5 L569,313 L575,313 L575,317 L571,317 L571,319 L575,319 L575,323.5 L569,323.5 L567,326 L559,326 L557,323.5 L552,323.5 Z" fill="#e6e8e8" stroke="#a4a7a9" stroke-width="0.5"/>
<circle cx="563" cy="318.2" r="4.6" fill="#cfd2d3" stroke="#7f8386" stroke-width="0.8"/><path d="M560.5,318.2 L565.5,318.2 M563,315.7 L563,320.7" stroke="#8a8d90" stroke-width="0.7"/>
<rect x="581.6" y="310.6" width="7.8" height="13.8" fill="none" rx="1.2" stroke="#f4f6f8" stroke-width="1.35"/>
<rect x="582.8" y="311.8" width="5.4" height="11.4" fill="#d6d6d2" rx="0.6"/>
<rect x="583.1" y="315.56" width="4.8" height="3.88" fill="#4c4d4e"/>
<rect x="698.1" y="275.6" width="15.3" height="6.8" fill="none" rx="1.2" stroke="#f4f6f8" stroke-width="1.35"/>
<rect x="699.3" y="276.8" width="12.9" height="4.4" fill="#d6d6d2" rx="0.6"/>
<rect x="703.56" y="277.1" width="4.39" height="3.8" fill="#4c4d4e"/>
<rect x="645.1" y="286.6" width="9.3" height="18.8" fill="none" rx="5.25" stroke="#f4f6f8" stroke-width="1.35"/>
<rect x="646.3" y="287.8" width="6.9" height="16.4" fill="#d6d6d2" rx="0.6"/>
<rect x="646.6" y="293.21" width="6.3" height="5.58" fill="#b9a27f"/>
<rect x="657.5" y="286.5" width="10" height="25.5" fill="none" stroke="#f4f6f8" stroke-width="1.1"/>
<rect x="659" y="288" width="7" height="22.5" fill="#d8d9d8"/>
<rect x="659" y="293" width="7" height="12" fill="#2a2c2e"/>
<rect x="670.5" y="286.5" width="15" height="40.5" fill="none" stroke="#f4f6f8" stroke-width="1.1"/>
<rect x="672" y="288" width="12" height="37.5" fill="#dcdddc"/>
<rect x="672" y="296" width="12" height="22" fill="#2a2c2e"/>
<rect x="688" y="286.5" width="15" height="40.5" fill="none" stroke="#f4f6f8" stroke-width="1.1"/>
<rect x="689.5" y="288" width="12" height="37.5" fill="#dcdddc"/>
<rect x="689.5" y="296" width="12" height="22" fill="#2a2c2e"/>
<rect x="705.5" y="286.5" width="15" height="40.5" fill="none" stroke="#f4f6f8" stroke-width="1.1"/>
<rect x="707" y="288" width="12" height="37.5" fill="#dcdddc"/>
<rect x="707" y="296" width="12" height="22" fill="#2a2c2e"/>
<rect x="650.6" y="315.6" width="15.8" height="7.8" fill="none" rx="1.2" stroke="#f4f6f8" stroke-width="1.35"/>
<rect x="651.8" y="316.8" width="13.4" height="5.4" fill="#d6d6d2" rx="0.6"/>
<rect x="656.22" y="317.1" width="4.56" height="4.8" fill="#4c4d4e"/>
<rect x="744" y="283.9" width="29.1" height="23.6" fill="none" stroke="#f4f6f8" stroke-width="1.4"/>
<rect x="745.5" y="285.4" width="26.1" height="20.6" fill="#2f3133" rx="1.5"/>
<circle cx="758.55" cy="295.70" r="11.30" fill="#6a6c6f"/>
<text x="751.2" y="298.8" font-size="8.2" font-weight="bold" fill="#1c1e20" textLength="15.5" lengthAdjust="spacingAndGlyphs">100</text>
<rect x="749" y="315.62" width="5" height="2.6" fill="#d4d6d8" rx="1.3"/>
<rect x="763.4" y="315.62" width="3.6" height="2.6" fill="#d4d6d8" rx="1.3"/>
<rect x="749" y="320.45" width="5" height="2.6" fill="#d4d6d8" rx="1.3"/>
<rect x="763.4" y="320.45" width="3.6" height="2.6" fill="#d4d6d8" rx="1.3"/>
<rect x="749" y="325.28" width="5" height="2.6" fill="#d4d6d8" rx="1.3"/>
<rect x="763.4" y="325.28" width="3.6" height="2.6" fill="#d4d6d8" rx="1.3"/>
<rect x="754" y="314.5" width="9.4" height="14.5" fill="#2e2f31" rx="0.8"/>
<rect x="772.1" y="313.2" width="8.6" height="16.4" fill="none" rx="4.9" stroke="#f4f6f8" stroke-width="1.35"/>
<rect x="773.3" y="314.4" width="6.2" height="14" fill="#d6d6d2" rx="0.6"/>
<rect x="773.6" y="319.02" width="5.6" height="4.76" fill="#b9a27f"/>
<rect x="724.5" y="309.5" width="14.4" height="5.7" fill="none" rx="3.45" stroke="#f4f6f8" stroke-width="1.35"/>
<rect x="725.7" y="310.7" width="12" height="3.3" fill="#d6d6d2" rx="0.6"/>
<rect x="729.66" y="311" width="4.08" height="2.7" fill="#b9a27f"/>
<rect x="723.6" y="318.9" width="15.8" height="7.5" fill="none" rx="4.35" stroke="#f4f6f8" stroke-width="1.35"/>
<rect x="724.8" y="320.1" width="13.4" height="5.1" fill="#d6d6d2" rx="0.6"/>
<rect x="729.22" y="320.4" width="4.56" height="4.5" fill="#b9a27f"/>
<rect x="724.5" y="328.9" width="14.4" height="6.3" fill="none" rx="1.2" stroke="#f4f6f8" stroke-width="1.35"/>
<rect x="725.7" y="330.1" width="12" height="3.9" fill="#d6d6d2" rx="0.6"/>
<rect x="729.66" y="330.4" width="4.08" height="3.3" fill="#4c4d4e"/>
<rect x="724.5" y="337.1" width="14.4" height="6.3" fill="none" rx="3.75" stroke="#f4f6f8" stroke-width="1.35"/>
<rect x="725.7" y="338.3" width="12" height="3.9" fill="#d6d6d2" rx="0.6"/>
<rect x="729.66" y="338.6" width="4.08" height="3.3" fill="#b9a27f"/>
<rect x="741.4" y="328.9" width="6.3" height="13.9" fill="none" rx="1.2" stroke="#f4f6f8" stroke-width="1.35"/>
<rect x="742.6" y="330.1" width="3.9" height="11.5" fill="#d6d6d2" rx="0.6"/>
<rect x="742.9" y="333.89" width="3.3" height="3.91" fill="#4c4d4e"/>
<rect x="723.4" y="346.4" width="25.7" height="9.6" fill="none" stroke="#f4f6f8" stroke-width="1.1"/>
<rect x="725" y="348" width="22.5" height="6.5" fill="#d8d9d8"/>
<rect x="730" y="348" width="12" height="6.5" fill="#2a2c2e"/>
<rect x="752.6" y="347.1" width="18.3" height="8.8" fill="none" rx="5" stroke="#f4f6f8" stroke-width="1.35"/>
<rect x="753.8" y="348.3" width="15.9" height="6.4" fill="#d6d6d2" rx="0.6"/>
<rect x="759.05" y="348.6" width="5.41" height="5.8" fill="#b9a27f"/>
<rect x="623.7" y="465" width="29.2" height="23.5" fill="none" stroke="#f4f6f8" stroke-width="1.4"/>
<rect x="625.2" y="466.5" width="26.2" height="20.5" fill="#2f3133" rx="1.5"/>
<circle cx="638.30" cy="476.75" r="11.25" fill="#6a6c6f"/>
<text transform="translate(646,473.2) rotate(180)" font-size="8.5" font-weight="bold" fill="#1a1c1e" textLength="15" lengthAdjust="spacingAndGlyphs">4R7</text>
<rect x="657.5" y="467.9" width="9.7" height="17" fill="none" rx="5.45" stroke="#f4f6f8" stroke-width="1.35"/>
<rect x="658.7" y="469.1" width="7.3" height="14.6" fill="#d6d6d2" rx="0.6"/>
<rect x="659" y="473.92" width="6.7" height="4.96" fill="#b9a27f"/>
<rect x="623.6" y="494.8" width="8.6" height="16.3" fill="none" rx="4.9" stroke="#f4f6f8" stroke-width="1.35"/>
<rect x="624.8" y="496" width="6.2" height="13.9" fill="#d6d6d2" rx="0.6"/>
<rect x="625.1" y="500.59" width="5.6" height="4.73" fill="#b9a27f"/>
<rect x="638.12" y="493.5" width="2.75" height="5" fill="#d4d6d8"/>
<rect x="638.12" y="506.5" width="2.75" height="5" fill="#d4d6d8"/>
<rect x="643.12" y="493.5" width="2.75" height="5" fill="#d4d6d8"/>
<rect x="643.12" y="506.5" width="2.75" height="5" fill="#d4d6d8"/>
<rect x="648.12" y="493.5" width="2.75" height="5" fill="#d4d6d8"/>
<rect x="648.12" y="506.5" width="2.75" height="5" fill="#d4d6d8"/>
<rect x="637" y="498.5" width="15" height="8" fill="#2e2f31" rx="0.8"/>
<rect x="658.53" y="491.24" width="7.65" height="8.82" fill="#2e3032"/>
<rect x="655.47" y="492.71" width="3.06" height="2.94" fill="#d6d8d8"/>
<rect x="655.47" y="496.38" width="3.06" height="2.94" fill="#d6d8d8"/>
<rect x="666.17" y="494.18" width="3.06" height="2.94" fill="#d6d8d8"/>
<rect x="670.6" y="488.9" width="6.5" height="14.5" fill="none" rx="1.2" stroke="#f4f6f8" stroke-width="1.35"/>
<rect x="671.8" y="490.1" width="4.1" height="12.1" fill="#d6d6d2" rx="0.6"/>
<rect x="672.1" y="494.09" width="3.5" height="4.11" fill="#4c4d4e"/>
<rect x="678.9" y="488.9" width="6.3" height="14.5" fill="none" rx="1.2" stroke="#f4f6f8" stroke-width="1.35"/>
<rect x="680.1" y="490.1" width="3.9" height="12.1" fill="#d6d6d2" rx="0.6"/>
<rect x="680.4" y="494.09" width="3.3" height="4.11" fill="#4c4d4e"/>
<rect x="690.5" y="491.44" width="8.2" height="9.42" fill="#2e3032"/>
<rect x="687.22" y="493.01" width="3.28" height="3.14" fill="#d6d8d8"/>
<rect x="687.22" y="496.94" width="3.28" height="3.14" fill="#d6d8d8"/>
<rect x="698.7" y="494.58" width="3.28" height="3.14" fill="#d6d8d8"/>
<rect x="687.6" y="480.2" width="14.2" height="6.2" fill="none" rx="1.2" stroke="#f4f6f8" stroke-width="1.35"/>
<rect x="688.8" y="481.4" width="11.8" height="3.8" fill="#d6d6d2" rx="0.6"/>
<rect x="692.69" y="481.7" width="4.01" height="3.2" fill="#4c4d4e"/>
<rect x="654.2" y="504.6" width="15.6" height="20.8" fill="none" rx="1" stroke="#f4f6f8" stroke-width="1.35"/>
<rect x="655.4" y="505.3" width="13.2" height="4.73" fill="#d6d6d2" rx="0.5"/>
<rect x="660.42" y="506" width="3.17" height="3.33" fill="#505152"/>
<rect x="655.4" y="512.63" width="13.2" height="4.73" fill="#d6d6d2" rx="0.5"/>
<rect x="660.42" y="513.33" width="3.17" height="3.33" fill="#505152"/>
<rect x="655.4" y="519.97" width="13.2" height="4.73" fill="#d6d6d2" rx="0.5"/>
<rect x="660.42" y="520.67" width="3.17" height="3.33" fill="#505152"/>
<rect x="753" y="430.44" width="10" height="2.6" fill="#d4d6d8" rx="1.3"/>
<rect x="781.6" y="430.44" width="9.8" height="2.6" fill="#d4d6d8" rx="1.3"/>
<rect x="753" y="436.73" width="10" height="2.6" fill="#d4d6d8" rx="1.3"/>
<rect x="781.6" y="436.73" width="9.8" height="2.6" fill="#d4d6d8" rx="1.3"/>
<rect x="753" y="443.02" width="10" height="2.6" fill="#d4d6d8" rx="1.3"/>
<rect x="781.6" y="443.02" width="9.8" height="2.6" fill="#d4d6d8" rx="1.3"/>
<rect x="753" y="449.31" width="10" height="2.6" fill="#d4d6d8" rx="1.3"/>
<rect x="781.6" y="449.31" width="9.8" height="2.6" fill="#d4d6d8" rx="1.3"/>
<rect x="763" y="428.6" width="18.6" height="25.15" fill="#303234" rx="0.8"/>
<rect x="733.6" y="428.1" width="15.8" height="8.3" fill="none" rx="4.75" stroke="#f4f6f8" stroke-width="1.35"/>
<rect x="734.8" y="429.3" width="13.4" height="5.9" fill="#d6d6d2" rx="0.6"/>
<rect x="739.22" y="429.6" width="4.56" height="5.3" fill="#b9a27f"/>
<rect x="733.6" y="438.1" width="15.8" height="7.8" fill="none" rx="1.2" stroke="#f4f6f8" stroke-width="1.35"/>
<rect x="734.8" y="439.3" width="13.4" height="5.4" fill="#d6d6d2" rx="0.6"/>
<rect x="739.22" y="439.6" width="4.56" height="4.8" fill="#4c4d4e"/>
<rect x="733.6" y="447.6" width="15.8" height="7.8" fill="none" rx="4.5" stroke="#f4f6f8" stroke-width="1.35"/>
<rect x="734.8" y="448.8" width="13.4" height="5.4" fill="#d6d6d2" rx="0.6"/>
<rect x="739.22" y="449.1" width="4.56" height="4.8" fill="#b9a27f"/>
<rect x="794.2" y="436.6" width="6.5" height="14.4" fill="none" rx="1.2" stroke="#f4f6f8" stroke-width="1.35"/>
<rect x="795.4" y="437.8" width="4.1" height="12" fill="#d6d6d2" rx="0.6"/>
<rect x="795.7" y="441.76" width="3.5" height="4.08" fill="#4c4d4e"/>
<rect x="733.6" y="459.2" width="15.8" height="7.2" fill="none" rx="4.2" stroke="#f4f6f8" stroke-width="1.35"/>
<rect x="734.8" y="460.4" width="13.4" height="4.8" fill="#d6d6d2" rx="0.6"/>
<rect x="739.22" y="460.7" width="4.56" height="4.2" fill="#b9a27f"/>
<rect x="751.6" y="459.2" width="15.8" height="7.2" fill="none" rx="1.2" stroke="#f4f6f8" stroke-width="1.35"/>
<rect x="752.8" y="460.4" width="13.4" height="4.8" fill="#d6d6d2" rx="0.6"/>
<rect x="757.22" y="460.7" width="4.56" height="4.2" fill="#4c4d4e"/>
<rect x="775.1" y="459.2" width="15.7" height="7.2" fill="none" rx="1.2" stroke="#f4f6f8" stroke-width="1.35"/>
<rect x="776.3" y="460.4" width="13.3" height="4.8" fill="#d6d6d2" rx="0.6"/>
<rect x="780.69" y="460.7" width="4.52" height="4.2" fill="#4c4d4e"/>
<rect x="752.6" y="472.48" width="7.6" height="8.94" fill="#2e3032"/>
<rect x="749.56" y="473.97" width="3.04" height="2.98" fill="#d6d8d8"/>
<rect x="749.56" y="477.69" width="3.04" height="2.98" fill="#d6d8d8"/>
<rect x="760.2" y="475.46" width="3.04" height="2.98" fill="#d6d8d8"/>
<rect x="766.6" y="469.6" width="6.8" height="14.8" fill="none" rx="1.2" stroke="#f4f6f8" stroke-width="1.35"/>
<rect x="767.8" y="470.8" width="4.4" height="12.4" fill="#d6d6d2" rx="0.6"/>
<rect x="768.1" y="474.89" width="3.8" height="4.22" fill="#4c4d4e"/>
<rect x="779.1" y="472.48" width="8.2" height="8.94" fill="#2e3032"/>
<rect x="775.82" y="473.97" width="3.28" height="2.98" fill="#d6d8d8"/>
<rect x="775.82" y="477.69" width="3.28" height="2.98" fill="#d6d8d8"/>
<rect x="787.3" y="475.46" width="3.28" height="2.98" fill="#d6d8d8"/>
<rect x="728.6" y="503.6" width="15.6" height="22.8" fill="none" rx="1" stroke="#f4f6f8" stroke-width="1.35"/>
<rect x="729.8" y="504.3" width="13.2" height="5.4" fill="#d6d6d2" rx="0.5"/>
<rect x="734.82" y="505" width="3.17" height="4" fill="#505152"/>
<rect x="729.8" y="512.3" width="13.2" height="5.4" fill="#d6d6d2" rx="0.5"/>
<rect x="734.82" y="513" width="3.17" height="4" fill="#505152"/>
<rect x="729.8" y="520.3" width="13.2" height="5.4" fill="#d6d6d2" rx="0.5"/>
<rect x="734.82" y="521" width="3.17" height="4" fill="#505152"/>
<rect x="752" y="513.9" width="4" height="2.2" fill="#d4d6d8" rx="1.1"/>
<rect x="767" y="513.9" width="3.6" height="2.2" fill="#d4d6d8" rx="1.1"/>
<rect x="752" y="517.9" width="4" height="2.2" fill="#d4d6d8" rx="1.1"/>
<rect x="767" y="517.9" width="3.6" height="2.2" fill="#d4d6d8" rx="1.1"/>
<rect x="752" y="521.9" width="4" height="2.2" fill="#d4d6d8" rx="1.1"/>
<rect x="767" y="521.9" width="3.6" height="2.2" fill="#d4d6d8" rx="1.1"/>
<rect x="756" y="513" width="11" height="12" fill="#2e2f31" rx="0.8"/>
<rect x="753.6" y="504.2" width="14.3" height="6.2" fill="none" rx="3.7" stroke="#f4f6f8" stroke-width="1.35"/>
<rect x="754.8" y="505.4" width="11.9" height="3.8" fill="#d6d6d2" rx="0.6"/>
<rect x="758.73" y="505.7" width="4.05" height="3.2" fill="#b9a27f"/>
<rect x="779.38" y="502.96" width="8.75" height="9.78" fill="#2e3032"/>
<rect x="775.88" y="504.59" width="3.5" height="3.26" fill="#d6d8d8"/>
<rect x="775.88" y="508.67" width="3.5" height="3.26" fill="#d6d8d8"/>
<rect x="788.12" y="506.22" width="3.5" height="3.26" fill="#d6d8d8"/>
<rect x="775.6" y="520" width="15.2" height="6.4" fill="none" rx="1.2" stroke="#f4f6f8" stroke-width="1.35"/>
<rect x="776.8" y="521.2" width="12.8" height="4" fill="#d6d6d2" rx="0.6"/>
<rect x="781.02" y="521.5" width="4.35" height="3.4" fill="#4c4d4e"/>
<text x="74.8" y="453" font-size="18.4" font-weight="bold" fill="#fff" textLength="183.3" lengthAdjust="spacingAndGlyphs">7inch HDMI LCD (B)</text>
<text x="74.8" y="469.4" font-size="12.3" font-weight="bold" fill="#fff" textLength="187.7" lengthAdjust="spacingAndGlyphs">USB Capacitive Touch Screen</text>
<text x="74.8" y="483.6" font-size="12.3" font-weight="bold" fill="#fff" textLength="92.6" lengthAdjust="spacingAndGlyphs">800x480 Pixels</text>
<text x="74.8" y="506.6" font-size="10.7" font-weight="bold" fill="#fff" textLength="34.6" lengthAdjust="spacingAndGlyphs">Rev4.1</text>
<text x="213.3" y="519.7" font-size="7.8" font-weight="bold" fill="#fff" textLength="46" lengthAdjust="spacingAndGlyphs">Waveshare</text>
<text x="199" y="482.2" font-size="7.2" font-weight="bold" fill="#fff" textLength="9" lengthAdjust="spacingAndGlyphs">TM</text>
<circle cx="258.5" cy="479.2" r="5.3" fill="none" stroke="#fff" stroke-width="1.2"/>
<text x="255.5" y="482.2" font-size="7.2" font-weight="bold" fill="#fff" textLength="6" lengthAdjust="spacingAndGlyphs">R</text>
<g fill="none" stroke="#fff" stroke-width="2.8" stroke-linejoin="round" stroke-linecap="round"><path d="M182,483.5 L176.5,483.5 L166,500 L166,507 L175.5,517 L180,517"/><path d="M192,483.5 L197.5,483.5 L208,500 L208,507 L198.5,517 L194,517"/><path d="M187,486 Q186,479 190.5,475.5" stroke-width="2.2"/><path d="M187,494.5 L179,509 M187,494.5 L195.5,510" stroke-width="1.4"/></g>
<g fill="none" stroke="#fff" stroke-width="1.6" stroke-linejoin="round"><path d="M177,488 L171,499 L171,506 L176,512"/><path d="M197,488 L203,499 L203,506 L198,512"/></g>
<polygon points="194.36,493.67 194.36,495.13 192.1,495.95 191.7,496.91 192.72,499.09 191.69,500.12 189.51,499.1 188.55,499.5 187.73,501.76 186.27,501.76 185.45,499.5 184.49,499.1 182.31,500.12 181.28,499.09 182.3,496.91 181.9,495.95 179.64,495.13 179.64,493.67 181.9,492.85 182.3,491.89 181.28,489.71 182.31,488.68 184.49,489.7 185.45,489.3 186.27,487.04 187.73,487.04 188.55,489.3 189.51,489.7 191.69,488.68 192.72,489.71 191.7,491.89 192.1,492.85" fill="#fff"/><circle cx="187" cy="494.4" r="2.22" fill="#1458ac"/>
<polygon points="184.27,508.71 184.27,509.89 182.43,510.55 182.11,511.34 182.94,513.11 182.11,513.94 180.34,513.11 179.55,513.43 178.89,515.27 177.71,515.27 177.05,513.43 176.26,513.11 174.49,513.94 173.66,513.11 174.49,511.34 174.17,510.55 172.33,509.89 172.33,508.71 174.17,508.05 174.49,507.26 173.66,505.49 174.49,504.66 176.26,505.49 177.05,505.17 177.71,503.33 178.89,503.33 179.55,505.17 180.34,505.49 182.11,504.66 182.94,505.49 182.11,507.26 182.43,508.05" fill="#fff"/><circle cx="178.3" cy="509.3" r="1.8" fill="#1458ac"/>
<polygon points="200.67,509.29 200.67,510.31 199.08,510.89 198.8,511.56 199.52,513.1 198.8,513.82 197.26,513.1 196.59,513.38 196.01,514.97 194.99,514.97 194.41,513.38 193.74,513.1 192.2,513.82 191.48,513.1 192.2,511.56 191.92,510.89 190.33,510.31 190.33,509.29 191.92,508.71 192.2,508.04 191.48,506.5 192.2,505.78 193.74,506.5 194.41,506.22 194.99,504.63 196.01,504.63 196.59,506.22 197.26,506.5 198.8,505.78 199.52,506.5 198.8,508.04 199.08,508.71" fill="#fff"/><circle cx="195.5" cy="509.8" r="1.56" fill="#1458ac"/>
<g fill="none" stroke="#fff" stroke-width="6.2" stroke-linejoin="miter" stroke-miterlimit="3" stroke-linecap="butt"><path d="M216,484 L222.5,500 L229,488 L235.5,500 L239.5,491"/></g>
<path d="M236,497 L239.5,480 L237,480.5 L241,473 L243,481 L241.5,480.5 L239,497 Z" fill="#fff"/>
<path d="M243,485 L251,500 L247.5,501 L252.5,512.5 L244,502 L247,501.5 L240.5,489 Z" fill="#fff"/>
</svg>
</body></html>
